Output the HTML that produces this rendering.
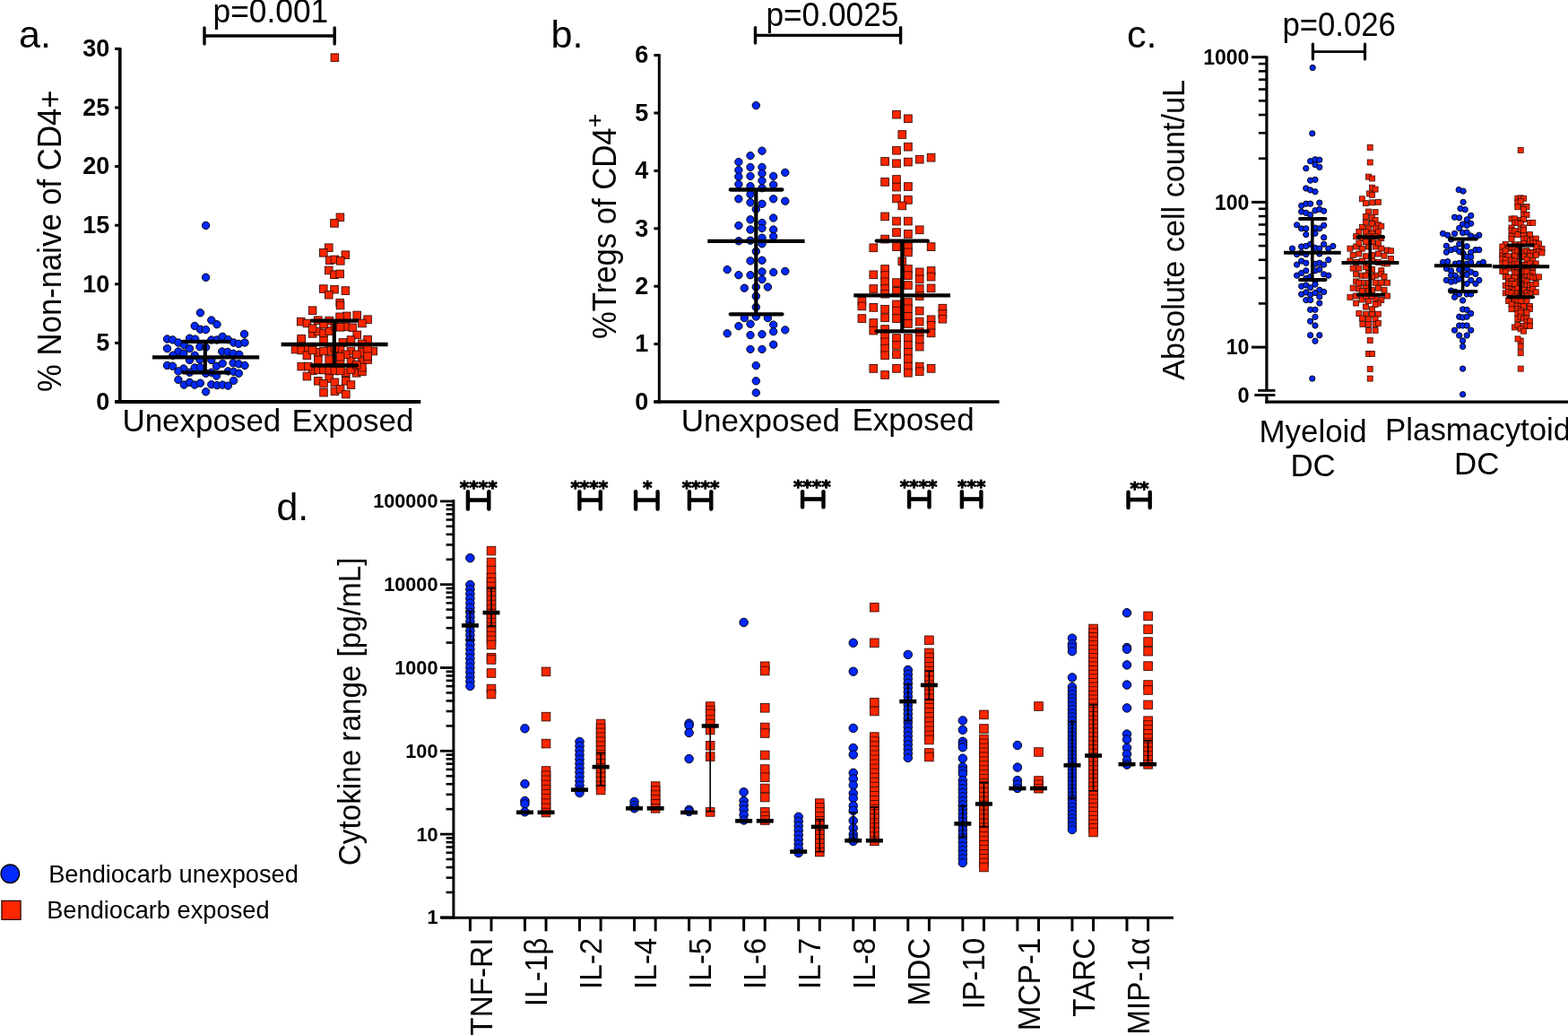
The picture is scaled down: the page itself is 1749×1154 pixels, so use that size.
<!DOCTYPE html>
<html><head><meta charset="utf-8"><title>Figure</title>
<style>html,body{margin:0;padding:0;background:#fff;}svg{display:block;}</style>
</head><body>
<svg width="1749" height="1154" viewBox="0 0 1749 1154" font-family="'Liberation Sans', Arial, Helvetica, sans-serif">
<rect width="1749" height="1154" fill="#fff"/>
<line x1="133.8" y1="53.2" x2="133.8" y2="449.5" stroke="#000" stroke-width="3.6" stroke-linecap="butt"/>
<line x1="128" y1="448" x2="134" y2="448" stroke="#000" stroke-width="3" stroke-linecap="butt"/>
<text transform="translate(122.2 456.8)" font-size="27" text-anchor="end" font-weight="bold">0</text>
<line x1="128" y1="382.4" x2="134" y2="382.4" stroke="#000" stroke-width="3" stroke-linecap="butt"/>
<text transform="translate(122.2 391.2)" font-size="27" text-anchor="end" font-weight="bold">5</text>
<line x1="128" y1="316.8" x2="134" y2="316.8" stroke="#000" stroke-width="3" stroke-linecap="butt"/>
<text transform="translate(122.2 325.6)" font-size="27" text-anchor="end" font-weight="bold">10</text>
<line x1="128" y1="251.2" x2="134" y2="251.2" stroke="#000" stroke-width="3" stroke-linecap="butt"/>
<text transform="translate(122.2 260)" font-size="27" text-anchor="end" font-weight="bold">15</text>
<line x1="128" y1="185.6" x2="134" y2="185.6" stroke="#000" stroke-width="3" stroke-linecap="butt"/>
<text transform="translate(122.2 194.4)" font-size="27" text-anchor="end" font-weight="bold">20</text>
<line x1="128" y1="120" x2="134" y2="120" stroke="#000" stroke-width="3" stroke-linecap="butt"/>
<text transform="translate(122.2 128.8)" font-size="27" text-anchor="end" font-weight="bold">25</text>
<line x1="128" y1="54.4" x2="134" y2="54.4" stroke="#000" stroke-width="3" stroke-linecap="butt"/>
<text transform="translate(122.2 63.2)" font-size="27" text-anchor="end" font-weight="bold">30</text>
<line x1="128.2" y1="448" x2="469.3" y2="448" stroke="#000" stroke-width="4" stroke-linecap="butt"/>
<text transform="translate(136.4 481.3)" font-size="34.97" text-anchor="start" font-weight="normal">Unexposed</text>
<text transform="translate(325.4 481.2)" font-size="34.93" text-anchor="start" font-weight="normal">Exposed</text>
<text transform="translate(67.5 436.9) rotate(-90) scale(1 1.05)" font-size="34.7" text-anchor="start" font-weight="normal">% Non-naive of CD4+</text>
<text transform="translate(21.1 52.8)" font-size="43" text-anchor="start" font-weight="normal">a.</text>
<text transform="translate(237.6 25.3) scale(1 1.03)" font-size="35.3" text-anchor="start" font-weight="normal">p=0.001</text>
<line x1="228" y1="40" x2="373.2" y2="40" stroke="#000" stroke-width="3.4" stroke-linecap="butt"/>
<line x1="228" y1="31" x2="228" y2="49" stroke="#000" stroke-width="3.4" stroke-linecap="round"/>
<line x1="373.2" y1="31" x2="373.2" y2="49" stroke="#000" stroke-width="3.4" stroke-linecap="round"/>
<g fill="#0028ff" stroke="#05050a" stroke-width="1">
<circle cx="223.4" cy="348.8" r="4.2"/>
<circle cx="235.8" cy="357" r="4.2"/>
<circle cx="242" cy="361.7" r="4.2"/>
<circle cx="217.2" cy="363.4" r="4.2"/>
<circle cx="223.4" cy="367.2" r="4.2"/>
<circle cx="229.6" cy="367.6" r="4.2"/>
<circle cx="272.5" cy="372.4" r="4.2"/>
<circle cx="186.5" cy="378" r="4.2"/>
<circle cx="192.6" cy="378.9" r="4.2"/>
<circle cx="198.9" cy="382" r="4.2"/>
<circle cx="211.5" cy="377.2" r="4.2"/>
<circle cx="217.7" cy="378.1" r="4.2"/>
<circle cx="235.8" cy="379" r="4.2"/>
<circle cx="242" cy="379" r="4.2"/>
<circle cx="248.2" cy="375.3" r="4.2"/>
<circle cx="254.4" cy="378.6" r="4.2"/>
<circle cx="260.6" cy="382" r="4.2"/>
<circle cx="266.3" cy="383.4" r="4.2"/>
<circle cx="273" cy="382" r="4.2"/>
<circle cx="186.5" cy="388.6" r="4.2"/>
<circle cx="205.3" cy="384.8" r="4.2"/>
<circle cx="211.5" cy="388.6" r="4.2"/>
<circle cx="222.9" cy="386.7" r="4.2"/>
<circle cx="229.6" cy="387.2" r="4.2"/>
<circle cx="198.9" cy="392" r="4.2"/>
<circle cx="204.8" cy="394.3" r="4.2"/>
<circle cx="192.9" cy="396.2" r="4.2"/>
<circle cx="217.2" cy="396.2" r="4.2"/>
<circle cx="247.7" cy="392" r="4.2"/>
<circle cx="253.9" cy="392.4" r="4.2"/>
<circle cx="260.1" cy="394.3" r="4.2"/>
<circle cx="266.8" cy="395.3" r="4.2"/>
<circle cx="211.5" cy="401.5" r="4.2"/>
<circle cx="222.9" cy="401" r="4.2"/>
<circle cx="235.8" cy="401.5" r="4.2"/>
<circle cx="186.5" cy="407.5" r="4.2"/>
<circle cx="192.6" cy="408.2" r="4.2"/>
<circle cx="204.8" cy="411" r="4.2"/>
<circle cx="217.2" cy="410" r="4.2"/>
<circle cx="223.4" cy="409.6" r="4.2"/>
<circle cx="241.5" cy="408.2" r="4.2"/>
<circle cx="248.2" cy="405.3" r="4.2"/>
<circle cx="260.1" cy="404.8" r="4.2"/>
<circle cx="266.3" cy="405.8" r="4.2"/>
<circle cx="273" cy="407.5" r="4.2"/>
<circle cx="198.9" cy="413.9" r="4.2"/>
<circle cx="211.5" cy="415.3" r="4.2"/>
<circle cx="229.6" cy="416.3" r="4.2"/>
<circle cx="235.8" cy="415.3" r="4.2"/>
<circle cx="241.5" cy="419.1" r="4.2"/>
<circle cx="254.4" cy="413.9" r="4.2"/>
<circle cx="260.6" cy="414.4" r="4.2"/>
<circle cx="266.3" cy="416.3" r="4.2"/>
<circle cx="198.9" cy="423.4" r="4.2"/>
<circle cx="260.6" cy="424.4" r="4.2"/>
<circle cx="205.3" cy="429.1" r="4.2"/>
<circle cx="211.5" cy="426.3" r="4.2"/>
<circle cx="217.2" cy="429.1" r="4.2"/>
<circle cx="223.4" cy="427.2" r="4.2"/>
<circle cx="235.8" cy="428.7" r="4.2"/>
<circle cx="242" cy="429.6" r="4.2"/>
<circle cx="248.2" cy="429.1" r="4.2"/>
<circle cx="254.4" cy="430.1" r="4.2"/>
<circle cx="229.6" cy="436.8" r="4.2"/>
<circle cx="229.6" cy="251.4" r="4.2"/>
<circle cx="229.6" cy="309.3" r="4.2"/>
</g>
<g fill="#ff2600" stroke="#3a0c04" stroke-width="0.9">
<rect x="369.1" y="59.9" width="8.6" height="8.6"/>
<rect x="375.1" y="238" width="8.6" height="8.6"/>
<rect x="368.7" y="244.6" width="8.6" height="8.6"/>
<rect x="362.5" y="271.9" width="8.6" height="8.6"/>
<rect x="356.5" y="277.5" width="8.6" height="8.6"/>
<rect x="381.1" y="279.9" width="8.6" height="8.6"/>
<rect x="363.5" y="285.9" width="8.6" height="8.6"/>
<rect x="369.1" y="285.1" width="8.6" height="8.6"/>
<rect x="375.5" y="286.5" width="8.6" height="8.6"/>
<rect x="362.5" y="297.1" width="8.6" height="8.6"/>
<rect x="368.5" y="301.9" width="8.6" height="8.6"/>
<rect x="374.9" y="301.1" width="8.6" height="8.6"/>
<rect x="356.5" y="317.8" width="8.6" height="8.6"/>
<rect x="368.7" y="318.4" width="8.6" height="8.6"/>
<rect x="381.1" y="319.8" width="8.6" height="8.6"/>
<rect x="362.5" y="324.4" width="8.6" height="8.6"/>
<rect x="374.9" y="333.4" width="8.6" height="8.6"/>
<rect x="344.3" y="341.9" width="8.6" height="8.6"/>
<rect x="375.3" y="336.2" width="8.6" height="8.6"/>
<rect x="393.9" y="347.1" width="8.6" height="8.6"/>
<rect x="382.4" y="348.1" width="8.6" height="8.6"/>
<rect x="374.8" y="349" width="8.6" height="8.6"/>
<rect x="405.8" y="351.9" width="8.6" height="8.6"/>
<rect x="331.4" y="354.3" width="8.6" height="8.6"/>
<rect x="338.1" y="356.2" width="8.6" height="8.6"/>
<rect x="350.5" y="352.9" width="8.6" height="8.6"/>
<rect x="362.9" y="353.3" width="8.6" height="8.6"/>
<rect x="399.6" y="356.2" width="8.6" height="8.6"/>
<rect x="381.5" y="360" width="8.6" height="8.6"/>
<rect x="389.1" y="361" width="8.6" height="8.6"/>
<rect x="393.9" y="369.1" width="8.6" height="8.6"/>
<rect x="344.3" y="367.6" width="8.6" height="8.6"/>
<rect x="350.5" y="365.3" width="8.6" height="8.6"/>
<rect x="356.7" y="367.2" width="8.6" height="8.6"/>
<rect x="362.9" y="364.8" width="8.6" height="8.6"/>
<rect x="387.2" y="374.8" width="8.6" height="8.6"/>
<rect x="405.8" y="374.3" width="8.6" height="8.6"/>
<rect x="331.9" y="374.8" width="8.6" height="8.6"/>
<rect x="356.7" y="375.7" width="8.6" height="8.6"/>
<rect x="399.6" y="379.1" width="8.6" height="8.6"/>
<rect x="378.1" y="377.6" width="8.6" height="8.6"/>
<rect x="325.2" y="385.3" width="8.6" height="8.6"/>
<rect x="331.9" y="386.2" width="8.6" height="8.6"/>
<rect x="339.5" y="383.4" width="8.6" height="8.6"/>
<rect x="350.5" y="388.6" width="8.6" height="8.6"/>
<rect x="362.9" y="386.7" width="8.6" height="8.6"/>
<rect x="375.3" y="385.7" width="8.6" height="8.6"/>
<rect x="387.2" y="387.2" width="8.6" height="8.6"/>
<rect x="399.6" y="388.6" width="8.6" height="8.6"/>
<rect x="412" y="387.2" width="8.6" height="8.6"/>
<rect x="338.1" y="391.9" width="8.6" height="8.6"/>
<rect x="350.5" y="397.2" width="8.6" height="8.6"/>
<rect x="362.9" y="396.7" width="8.6" height="8.6"/>
<rect x="375.3" y="397.2" width="8.6" height="8.6"/>
<rect x="387.2" y="397.7" width="8.6" height="8.6"/>
<rect x="399.6" y="398.1" width="8.6" height="8.6"/>
<rect x="405.8" y="396.7" width="8.6" height="8.6"/>
<rect x="331.9" y="404.3" width="8.6" height="8.6"/>
<rect x="344.3" y="409.1" width="8.6" height="8.6"/>
<rect x="350.5" y="408.1" width="8.6" height="8.6"/>
<rect x="356.7" y="408.1" width="8.6" height="8.6"/>
<rect x="362.9" y="408.6" width="8.6" height="8.6"/>
<rect x="381.5" y="411" width="8.6" height="8.6"/>
<rect x="393.4" y="411.5" width="8.6" height="8.6"/>
<rect x="399.6" y="410.1" width="8.6" height="8.6"/>
<rect x="338.1" y="415.3" width="8.6" height="8.6"/>
<rect x="350.5" y="420.5" width="8.6" height="8.6"/>
<rect x="362.9" y="417.7" width="8.6" height="8.6"/>
<rect x="369.1" y="422" width="8.6" height="8.6"/>
<rect x="381.5" y="420.5" width="8.6" height="8.6"/>
<rect x="387.2" y="424.8" width="8.6" height="8.6"/>
<rect x="356.7" y="433.4" width="8.6" height="8.6"/>
<rect x="369.1" y="432" width="8.6" height="8.6"/>
<rect x="375.3" y="429.6" width="8.6" height="8.6"/>
<rect x="381.5" y="435.3" width="8.6" height="8.6"/>
<rect x="356.7" y="423.4" width="8.6" height="8.6"/>
<rect x="344.3" y="361.9" width="8.6" height="8.6"/>
<rect x="356.7" y="357.2" width="8.6" height="8.6"/>
<rect x="369.1" y="359.1" width="8.6" height="8.6"/>
<rect x="375.3" y="360.5" width="8.6" height="8.6"/>
<rect x="331.9" y="373.4" width="8.6" height="8.6"/>
<rect x="405.8" y="385.3" width="8.6" height="8.6"/>
<rect x="405.8" y="392.9" width="8.6" height="8.6"/>
<rect x="393.4" y="391" width="8.6" height="8.6"/>
<rect x="381.5" y="391" width="8.6" height="8.6"/>
<rect x="344.3" y="386.2" width="8.6" height="8.6"/>
<rect x="356.7" y="387.2" width="8.6" height="8.6"/>
<rect x="369.1" y="383.8" width="8.6" height="8.6"/>
<rect x="375.3" y="393.4" width="8.6" height="8.6"/>
<rect x="339.5" y="404.3" width="8.6" height="8.6"/>
<rect x="369.1" y="409.1" width="8.6" height="8.6"/>
<rect x="375.3" y="409.1" width="8.6" height="8.6"/>
<rect x="387.2" y="408.1" width="8.6" height="8.6"/>
<rect x="399.6" y="405.3" width="8.6" height="8.6"/>
<rect x="393.4" y="402.4" width="8.6" height="8.6"/>
</g>
<line x1="170" y1="398.3" x2="289.2" y2="398.3" stroke="#000" stroke-width="4.3" stroke-linecap="butt"/>
<line x1="204.3" y1="380.8" x2="254.9" y2="380.8" stroke="#000" stroke-width="4.3" stroke-linecap="round"/>
<line x1="204.3" y1="415.3" x2="254.9" y2="415.3" stroke="#000" stroke-width="4.3" stroke-linecap="round"/>
<line x1="228.8" y1="380.8" x2="228.8" y2="415.3" stroke="#000" stroke-width="4.2" stroke-linecap="butt"/>
<line x1="313.6" y1="384" x2="432.6" y2="384" stroke="#000" stroke-width="4.3" stroke-linecap="butt"/>
<line x1="347.9" y1="357.6" x2="398.1" y2="357.6" stroke="#000" stroke-width="4.3" stroke-linecap="round"/>
<line x1="347.9" y1="407.5" x2="398.1" y2="407.5" stroke="#000" stroke-width="4.3" stroke-linecap="round"/>
<line x1="372.8" y1="357.6" x2="372.8" y2="407.5" stroke="#000" stroke-width="4.2" stroke-linecap="butt"/>
<line x1="735.3" y1="60.2" x2="735.3" y2="449.7" stroke="#000" stroke-width="3" stroke-linecap="butt"/>
<line x1="729.4" y1="448" x2="735.5" y2="448" stroke="#000" stroke-width="3" stroke-linecap="butt"/>
<text transform="translate(723.4 456.8)" font-size="27" text-anchor="end" font-weight="bold">0</text>
<line x1="729.4" y1="383.6" x2="735.5" y2="383.6" stroke="#000" stroke-width="3" stroke-linecap="butt"/>
<text transform="translate(723.4 392.4)" font-size="27" text-anchor="end" font-weight="bold">1</text>
<line x1="729.4" y1="319.2" x2="735.5" y2="319.2" stroke="#000" stroke-width="3" stroke-linecap="butt"/>
<text transform="translate(723.4 328)" font-size="27" text-anchor="end" font-weight="bold">2</text>
<line x1="729.4" y1="254.8" x2="735.5" y2="254.8" stroke="#000" stroke-width="3" stroke-linecap="butt"/>
<text transform="translate(723.4 263.6)" font-size="27" text-anchor="end" font-weight="bold">3</text>
<line x1="729.4" y1="190.4" x2="735.5" y2="190.4" stroke="#000" stroke-width="3" stroke-linecap="butt"/>
<text transform="translate(723.4 199.2)" font-size="27" text-anchor="end" font-weight="bold">4</text>
<line x1="729.4" y1="126" x2="735.5" y2="126" stroke="#000" stroke-width="3" stroke-linecap="butt"/>
<text transform="translate(723.4 134.8)" font-size="27" text-anchor="end" font-weight="bold">5</text>
<line x1="729.4" y1="61.6" x2="735.5" y2="61.6" stroke="#000" stroke-width="3" stroke-linecap="butt"/>
<text transform="translate(723.4 70.4)" font-size="27" text-anchor="end" font-weight="bold">6</text>
<line x1="729.4" y1="448" x2="1114.6" y2="448" stroke="#000" stroke-width="3.5" stroke-linecap="butt"/>
<text transform="translate(759.8 480.8)" font-size="35.05" text-anchor="start" font-weight="normal">Unexposed</text>
<text transform="translate(950.4 479.6)" font-size="35.01" text-anchor="start" font-weight="normal">Exposed</text>
<text transform="translate(687 378.1) rotate(-90) scale(1 1.04)" font-size="34.68" text-anchor="start" font-weight="normal">%Tregs of CD4</text>
<text transform="translate(671.7 142) rotate(-90)" font-size="26" text-anchor="start" font-weight="normal" stroke="#000" stroke-width="0.35">+</text>
<text transform="translate(614.5 52.9)" font-size="43" text-anchor="start" font-weight="normal">b.</text>
<text transform="translate(854.4 28.8) scale(1 1.03)" font-size="35.26" text-anchor="start" font-weight="normal">p=0.0025</text>
<line x1="842.5" y1="39.3" x2="1004.6" y2="39.3" stroke="#000" stroke-width="3.3" stroke-linecap="butt"/>
<line x1="842.5" y1="30.8" x2="842.5" y2="48" stroke="#000" stroke-width="3.4" stroke-linecap="round"/>
<line x1="1004.6" y1="30.8" x2="1004.6" y2="48" stroke="#000" stroke-width="3.4" stroke-linecap="round"/>
<g fill="#0028ff" stroke="#05050a" stroke-width="1">
<circle cx="843.3" cy="117.6" r="4.2"/>
<circle cx="850" cy="168.2" r="4.2"/>
<circle cx="837" cy="173.6" r="4.2"/>
<circle cx="823.9" cy="180.6" r="4.2"/>
<circle cx="837" cy="186.4" r="4.2"/>
<circle cx="850" cy="186.4" r="4.2"/>
<circle cx="823.9" cy="189.7" r="4.2"/>
<circle cx="875.8" cy="192.4" r="4.2"/>
<circle cx="850" cy="193.3" r="4.2"/>
<circle cx="823.9" cy="197" r="4.2"/>
<circle cx="837" cy="196.4" r="4.2"/>
<circle cx="862.7" cy="196.4" r="4.2"/>
<circle cx="850" cy="201.5" r="4.2"/>
<circle cx="823.9" cy="205.5" r="4.2"/>
<circle cx="837" cy="207.6" r="4.2"/>
<circle cx="862.7" cy="206" r="4.2"/>
<circle cx="850" cy="209.7" r="4.2"/>
<circle cx="837" cy="216.7" r="4.2"/>
<circle cx="823.9" cy="221.8" r="4.2"/>
<circle cx="862.7" cy="221.8" r="4.2"/>
<circle cx="875.8" cy="224.2" r="4.2"/>
<circle cx="837" cy="225.8" r="4.2"/>
<circle cx="850" cy="227.3" r="4.2"/>
<circle cx="843.3" cy="233.3" r="4.2"/>
<circle cx="837" cy="244.8" r="4.2"/>
<circle cx="862.7" cy="243" r="4.2"/>
<circle cx="850" cy="248.5" r="4.2"/>
<circle cx="823.9" cy="251.5" r="4.2"/>
<circle cx="837" cy="256" r="4.2"/>
<circle cx="850" cy="254.5" r="4.2"/>
<circle cx="862.7" cy="256" r="4.2"/>
<circle cx="862.7" cy="263.6" r="4.2"/>
<circle cx="850" cy="265.2" r="4.2"/>
<circle cx="823.9" cy="268.8" r="4.2"/>
<circle cx="837" cy="268.2" r="4.2"/>
<circle cx="850" cy="271.8" r="4.2"/>
<circle cx="843.3" cy="280.3" r="4.2"/>
<circle cx="837" cy="290.9" r="4.2"/>
<circle cx="850" cy="290.3" r="4.2"/>
<circle cx="811.2" cy="300.6" r="4.2"/>
<circle cx="823.9" cy="306.7" r="4.2"/>
<circle cx="837" cy="306.7" r="4.2"/>
<circle cx="850" cy="303" r="4.2"/>
<circle cx="862.7" cy="303.6" r="4.2"/>
<circle cx="875.8" cy="302.4" r="4.2"/>
<circle cx="850" cy="311.5" r="4.2"/>
<circle cx="830.3" cy="321.2" r="4.2"/>
<circle cx="843.3" cy="320" r="4.2"/>
<circle cx="856.4" cy="320" r="4.2"/>
<circle cx="843.3" cy="330.3" r="4.2"/>
<circle cx="843.3" cy="342.4" r="4.2"/>
<circle cx="830.3" cy="354.5" r="4.2"/>
<circle cx="843.3" cy="353" r="4.2"/>
<circle cx="856.4" cy="354.5" r="4.2"/>
<circle cx="823.9" cy="363.6" r="4.2"/>
<circle cx="837" cy="361.2" r="4.2"/>
<circle cx="862.7" cy="362.1" r="4.2"/>
<circle cx="811.2" cy="371.8" r="4.2"/>
<circle cx="837" cy="373.6" r="4.2"/>
<circle cx="850" cy="372.7" r="4.2"/>
<circle cx="862.7" cy="369.7" r="4.2"/>
<circle cx="875.8" cy="367.9" r="4.2"/>
<circle cx="862.7" cy="384.2" r="4.2"/>
<circle cx="837" cy="389.4" r="4.2"/>
<circle cx="850" cy="389.4" r="4.2"/>
<circle cx="843.3" cy="407.6" r="4.2"/>
<circle cx="843.3" cy="424.8" r="4.2"/>
<circle cx="843.3" cy="437.9" r="4.2"/>
</g>
<g fill="#ff2600" stroke="#3a0c04" stroke-width="0.9">
<rect x="995.65" y="123.35" width="8.7" height="8.7"/>
<rect x="1008.55" y="127.95" width="8.7" height="8.7"/>
<rect x="1001.95" y="145.65" width="8.7" height="8.7"/>
<rect x="995.65" y="163.35" width="8.7" height="8.7"/>
<rect x="1008.55" y="159.35" width="8.7" height="8.7"/>
<rect x="982.75" y="175.65" width="8.7" height="8.7"/>
<rect x="995.65" y="177.95" width="8.7" height="8.7"/>
<rect x="1008.55" y="176.25" width="8.7" height="8.7"/>
<rect x="1021.35" y="173.35" width="8.7" height="8.7"/>
<rect x="1034.25" y="171.35" width="8.7" height="8.7"/>
<rect x="982.75" y="198.55" width="8.7" height="8.7"/>
<rect x="995.65" y="195.65" width="8.7" height="8.7"/>
<rect x="995.65" y="204.25" width="8.7" height="8.7"/>
<rect x="1008.55" y="203.65" width="8.7" height="8.7"/>
<rect x="995.65" y="217.05" width="8.7" height="8.7"/>
<rect x="1008.55" y="218.55" width="8.7" height="8.7"/>
<rect x="1001.95" y="225.05" width="8.7" height="8.7"/>
<rect x="982.75" y="237.05" width="8.7" height="8.7"/>
<rect x="995.65" y="242.25" width="8.7" height="8.7"/>
<rect x="1008.55" y="242.25" width="8.7" height="8.7"/>
<rect x="1021.35" y="251.95" width="8.7" height="8.7"/>
<rect x="995.65" y="254.75" width="8.7" height="8.7"/>
<rect x="1008.55" y="256.55" width="8.7" height="8.7"/>
<rect x="982.75" y="262.25" width="8.7" height="8.7"/>
<rect x="969.95" y="271.95" width="8.7" height="8.7"/>
<rect x="995.65" y="270.75" width="8.7" height="8.7"/>
<rect x="1008.55" y="270.75" width="8.7" height="8.7"/>
<rect x="1008.55" y="277.05" width="8.7" height="8.7"/>
<rect x="1034.25" y="270.75" width="8.7" height="8.7"/>
<rect x="1001.95" y="287.05" width="8.7" height="8.7"/>
<rect x="982.75" y="295.65" width="8.7" height="8.7"/>
<rect x="969.95" y="301.95" width="8.7" height="8.7"/>
<rect x="1008.55" y="295.65" width="8.7" height="8.7"/>
<rect x="1021.35" y="299.05" width="8.7" height="8.7"/>
<rect x="1034.25" y="297.65" width="8.7" height="8.7"/>
<rect x="982.75" y="302.75" width="8.7" height="8.7"/>
<rect x="1008.55" y="302.75" width="8.7" height="8.7"/>
<rect x="1021.35" y="307.05" width="8.7" height="8.7"/>
<rect x="1034.25" y="304.25" width="8.7" height="8.7"/>
<rect x="982.75" y="309.95" width="8.7" height="8.7"/>
<rect x="995.65" y="310.75" width="8.7" height="8.7"/>
<rect x="1008.55" y="313.65" width="8.7" height="8.7"/>
<rect x="982.75" y="317.65" width="8.7" height="8.7"/>
<rect x="969.95" y="317.65" width="8.7" height="8.7"/>
<rect x="1021.35" y="317.65" width="8.7" height="8.7"/>
<rect x="1034.25" y="317.05" width="8.7" height="8.7"/>
<rect x="982.75" y="323.35" width="8.7" height="8.7"/>
<rect x="995.65" y="320.55" width="8.7" height="8.7"/>
<rect x="1021.35" y="325.65" width="8.7" height="8.7"/>
<rect x="957.05" y="331.35" width="8.7" height="8.7"/>
<rect x="957.05" y="337.05" width="8.7" height="8.7"/>
<rect x="969.95" y="338.55" width="8.7" height="8.7"/>
<rect x="982.75" y="340.55" width="8.7" height="8.7"/>
<rect x="995.65" y="335.05" width="8.7" height="8.7"/>
<rect x="995.65" y="342.25" width="8.7" height="8.7"/>
<rect x="1008.55" y="332.75" width="8.7" height="8.7"/>
<rect x="1008.55" y="339.95" width="8.7" height="8.7"/>
<rect x="1021.35" y="342.25" width="8.7" height="8.7"/>
<rect x="1047.05" y="339.35" width="8.7" height="8.7"/>
<rect x="1047.05" y="345.65" width="8.7" height="8.7"/>
<rect x="1047.05" y="351.35" width="8.7" height="8.7"/>
<rect x="957.05" y="350.75" width="8.7" height="8.7"/>
<rect x="969.95" y="355.65" width="8.7" height="8.7"/>
<rect x="969.95" y="364.25" width="8.7" height="8.7"/>
<rect x="982.75" y="349.95" width="8.7" height="8.7"/>
<rect x="995.65" y="350.75" width="8.7" height="8.7"/>
<rect x="1008.55" y="348.55" width="8.7" height="8.7"/>
<rect x="1008.55" y="356.55" width="8.7" height="8.7"/>
<rect x="1021.35" y="354.25" width="8.7" height="8.7"/>
<rect x="1034.25" y="351.95" width="8.7" height="8.7"/>
<rect x="1034.25" y="358.55" width="8.7" height="8.7"/>
<rect x="1034.25" y="367.05" width="8.7" height="8.7"/>
<rect x="982.75" y="362.75" width="8.7" height="8.7"/>
<rect x="982.75" y="369.95" width="8.7" height="8.7"/>
<rect x="982.75" y="377.05" width="8.7" height="8.7"/>
<rect x="982.75" y="384.25" width="8.7" height="8.7"/>
<rect x="982.75" y="391.95" width="8.7" height="8.7"/>
<rect x="995.65" y="372.75" width="8.7" height="8.7"/>
<rect x="995.65" y="380.55" width="8.7" height="8.7"/>
<rect x="995.65" y="390.75" width="8.7" height="8.7"/>
<rect x="1008.55" y="372.75" width="8.7" height="8.7"/>
<rect x="1008.55" y="380.55" width="8.7" height="8.7"/>
<rect x="1008.55" y="388.55" width="8.7" height="8.7"/>
<rect x="1008.55" y="395.65" width="8.7" height="8.7"/>
<rect x="1008.55" y="404.25" width="8.7" height="8.7"/>
<rect x="1008.55" y="411.35" width="8.7" height="8.7"/>
<rect x="1021.35" y="365.65" width="8.7" height="8.7"/>
<rect x="1021.35" y="374.25" width="8.7" height="8.7"/>
<rect x="1021.35" y="382.25" width="8.7" height="8.7"/>
<rect x="969.95" y="406.55" width="8.7" height="8.7"/>
<rect x="982.75" y="413.65" width="8.7" height="8.7"/>
<rect x="995.65" y="406.55" width="8.7" height="8.7"/>
<rect x="1021.35" y="404.25" width="8.7" height="8.7"/>
<rect x="1021.35" y="409.95" width="8.7" height="8.7"/>
<rect x="1034.25" y="406.55" width="8.7" height="8.7"/>
</g>
<line x1="789.3" y1="268.8" x2="897.6" y2="268.8" stroke="#000" stroke-width="4.3" stroke-linecap="butt"/>
<line x1="814.8" y1="211.5" x2="872.4" y2="211.5" stroke="#000" stroke-width="4.3" stroke-linecap="round"/>
<line x1="814.8" y1="350.3" x2="872.4" y2="350.3" stroke="#000" stroke-width="4.3" stroke-linecap="round"/>
<line x1="843.3" y1="211.5" x2="843.3" y2="350.3" stroke="#000" stroke-width="4.2" stroke-linecap="butt"/>
<line x1="952.3" y1="329.4" x2="1060" y2="329.4" stroke="#000" stroke-width="4.3" stroke-linecap="butt"/>
<line x1="977.7" y1="268.6" x2="1034.9" y2="268.6" stroke="#000" stroke-width="4.3" stroke-linecap="round"/>
<line x1="977.7" y1="369.4" x2="1034.9" y2="369.4" stroke="#000" stroke-width="4.3" stroke-linecap="round"/>
<line x1="1006.3" y1="268.6" x2="1006.3" y2="369.4" stroke="#000" stroke-width="4.2" stroke-linecap="butt"/>
<line x1="1412.9" y1="62.6" x2="1412.9" y2="434" stroke="#000" stroke-width="3.2" stroke-linecap="butt"/>
<line x1="1412.9" y1="441.8" x2="1412.9" y2="449.6" stroke="#000" stroke-width="3.2" stroke-linecap="butt"/>
<line x1="1403.2" y1="435.4" x2="1422.4" y2="435.4" stroke="#000" stroke-width="2.8" stroke-linecap="butt"/>
<line x1="1399.3" y1="440.5" x2="1422.4" y2="440.5" stroke="#000" stroke-width="2.8" stroke-linecap="butt"/>
<line x1="1411.3" y1="448.2" x2="1749" y2="448.2" stroke="#000" stroke-width="3.2" stroke-linecap="butt"/>
<line x1="1396" y1="387.1" x2="1412.9" y2="387.1" stroke="#000" stroke-width="3" stroke-linecap="butt"/>
<text transform="translate(1393.4 395.3)" font-size="23" text-anchor="end" font-weight="bold">10</text>
<line x1="1396" y1="225.4" x2="1412.9" y2="225.4" stroke="#000" stroke-width="3" stroke-linecap="butt"/>
<text transform="translate(1393.4 233.6)" font-size="23" text-anchor="end" font-weight="bold">100</text>
<line x1="1396" y1="63.7" x2="1412.9" y2="63.7" stroke="#000" stroke-width="3" stroke-linecap="butt"/>
<text transform="translate(1393.4 71.9)" font-size="23" text-anchor="end" font-weight="bold">1000</text>
<line x1="1403.8" y1="338.42" x2="1412.9" y2="338.42" stroke="#000" stroke-width="2.6" stroke-linecap="butt"/>
<line x1="1403.8" y1="309.95" x2="1412.9" y2="309.95" stroke="#000" stroke-width="2.6" stroke-linecap="butt"/>
<line x1="1403.8" y1="289.75" x2="1412.9" y2="289.75" stroke="#000" stroke-width="2.6" stroke-linecap="butt"/>
<line x1="1403.8" y1="274.08" x2="1412.9" y2="274.08" stroke="#000" stroke-width="2.6" stroke-linecap="butt"/>
<line x1="1403.8" y1="261.27" x2="1412.9" y2="261.27" stroke="#000" stroke-width="2.6" stroke-linecap="butt"/>
<line x1="1403.8" y1="250.45" x2="1412.9" y2="250.45" stroke="#000" stroke-width="2.6" stroke-linecap="butt"/>
<line x1="1403.8" y1="241.07" x2="1412.9" y2="241.07" stroke="#000" stroke-width="2.6" stroke-linecap="butt"/>
<line x1="1403.8" y1="232.8" x2="1412.9" y2="232.8" stroke="#000" stroke-width="2.6" stroke-linecap="butt"/>
<line x1="1403.8" y1="176.72" x2="1412.9" y2="176.72" stroke="#000" stroke-width="2.6" stroke-linecap="butt"/>
<line x1="1403.8" y1="148.25" x2="1412.9" y2="148.25" stroke="#000" stroke-width="2.6" stroke-linecap="butt"/>
<line x1="1403.8" y1="128.05" x2="1412.9" y2="128.05" stroke="#000" stroke-width="2.6" stroke-linecap="butt"/>
<line x1="1403.8" y1="112.38" x2="1412.9" y2="112.38" stroke="#000" stroke-width="2.6" stroke-linecap="butt"/>
<line x1="1403.8" y1="99.57" x2="1412.9" y2="99.57" stroke="#000" stroke-width="2.6" stroke-linecap="butt"/>
<line x1="1403.8" y1="88.75" x2="1412.9" y2="88.75" stroke="#000" stroke-width="2.6" stroke-linecap="butt"/>
<line x1="1403.8" y1="79.37" x2="1412.9" y2="79.37" stroke="#000" stroke-width="2.6" stroke-linecap="butt"/>
<line x1="1403.8" y1="71.1" x2="1412.9" y2="71.1" stroke="#000" stroke-width="2.6" stroke-linecap="butt"/>
<text transform="translate(1393.5 448.7)" font-size="23.5" text-anchor="end" font-weight="bold">0</text>
<text transform="translate(1320.9 423.8) rotate(-90) scale(1 1.01)" font-size="34.23" text-anchor="start" font-weight="normal">Absolute cell count/uL</text>
<text transform="translate(1256.9 52.9)" font-size="43" text-anchor="start" font-weight="normal">c.</text>
<text transform="translate(1430.4 40.3) scale(1 1.04)" font-size="34.73" text-anchor="start" font-weight="normal">p=0.026</text>
<line x1="1464.4" y1="57.6" x2="1522.5" y2="57.6" stroke="#000" stroke-width="2.9" stroke-linecap="butt"/>
<line x1="1464.4" y1="49.2" x2="1464.4" y2="66" stroke="#000" stroke-width="3.2" stroke-linecap="round"/>
<line x1="1522.5" y1="49.2" x2="1522.5" y2="66" stroke="#000" stroke-width="3.2" stroke-linecap="round"/>
<text transform="translate(1404.6 493.1)" font-size="34.85" text-anchor="start" font-weight="normal">Myeloid</text>
<text transform="translate(1439.4 531)" font-size="34.85" text-anchor="start" font-weight="normal">DC</text>
<text transform="translate(1545.1 491)" font-size="34.85" text-anchor="start" font-weight="normal">Plasmacytoid</text>
<text transform="translate(1622.1 529)" font-size="34.85" text-anchor="start" font-weight="normal">DC</text>
<g fill="#0028ff" stroke="#05050a" stroke-width="1">
<circle cx="1463.76" cy="148.79" r="3.15"/>
<circle cx="1461.61" cy="179.66" r="3.15"/>
<circle cx="1466.98" cy="177.79" r="3.15"/>
<circle cx="1471.81" cy="178.32" r="3.15"/>
<circle cx="1466.98" cy="183.69" r="3.15"/>
<circle cx="1471.81" cy="186.38" r="3.15"/>
<circle cx="1456.78" cy="187.72" r="3.15"/>
<circle cx="1461.61" cy="201.14" r="3.15"/>
<circle cx="1466.98" cy="200.34" r="3.15"/>
<circle cx="1456.78" cy="210" r="3.15"/>
<circle cx="1461.61" cy="211.88" r="3.15"/>
<circle cx="1466.98" cy="213.76" r="3.15"/>
<circle cx="1451.68" cy="229.33" r="3.15"/>
<circle cx="1456.78" cy="227.18" r="3.15"/>
<circle cx="1461.61" cy="227.18" r="3.15"/>
<circle cx="1471.81" cy="226.11" r="3.15"/>
<circle cx="1451.68" cy="236.04" r="3.15"/>
<circle cx="1456.78" cy="237.38" r="3.15"/>
<circle cx="1461.61" cy="239.53" r="3.15"/>
<circle cx="1466.98" cy="234.7" r="3.15"/>
<circle cx="1471.81" cy="233.36" r="3.15"/>
<circle cx="1476.64" cy="235.23" r="3.15"/>
<circle cx="1446.58" cy="250.81" r="3.15"/>
<circle cx="1451.68" cy="254.83" r="3.15"/>
<circle cx="1456.78" cy="254.83" r="3.15"/>
<circle cx="1456.78" cy="261.54" r="3.15"/>
<circle cx="1466.98" cy="254.03" r="3.15"/>
<circle cx="1471.81" cy="254.83" r="3.15"/>
<circle cx="1476.64" cy="251.34" r="3.15"/>
<circle cx="1466.98" cy="260.2" r="3.15"/>
<circle cx="1476.64" cy="264.77" r="3.15"/>
<circle cx="1441.48" cy="277.11" r="3.15"/>
<circle cx="1451.68" cy="274.97" r="3.15"/>
<circle cx="1456.78" cy="274.43" r="3.15"/>
<circle cx="1461.61" cy="272.28" r="3.15"/>
<circle cx="1466.98" cy="276.31" r="3.15"/>
<circle cx="1471.81" cy="277.11" r="3.15"/>
<circle cx="1476.64" cy="272.28" r="3.15"/>
<circle cx="1481.74" cy="277.11" r="3.15"/>
<circle cx="1486.85" cy="274.43" r="3.15"/>
<circle cx="1446.58" cy="283.56" r="3.15"/>
<circle cx="1451.68" cy="281.68" r="3.15"/>
<circle cx="1456.78" cy="283.56" r="3.15"/>
<circle cx="1471.81" cy="283.02" r="3.15"/>
<circle cx="1446.58" cy="295.1" r="3.15"/>
<circle cx="1451.68" cy="291.07" r="3.15"/>
<circle cx="1456.78" cy="293.22" r="3.15"/>
<circle cx="1466.98" cy="294.3" r="3.15"/>
<circle cx="1471.81" cy="293.22" r="3.15"/>
<circle cx="1476.64" cy="295.1" r="3.15"/>
<circle cx="1481.74" cy="289.73" r="3.15"/>
<circle cx="1456.78" cy="301.81" r="3.15"/>
<circle cx="1466.98" cy="301.81" r="3.15"/>
<circle cx="1471.81" cy="300.47" r="3.15"/>
<circle cx="1446.58" cy="307.18" r="3.15"/>
<circle cx="1451.68" cy="304.5" r="3.15"/>
<circle cx="1476.64" cy="305.84" r="3.15"/>
<circle cx="1481.74" cy="307.18" r="3.15"/>
<circle cx="1456.78" cy="310.4" r="3.15"/>
<circle cx="1461.61" cy="308.52" r="3.15"/>
<circle cx="1466.98" cy="313.89" r="3.15"/>
<circle cx="1451.68" cy="319.26" r="3.15"/>
<circle cx="1456.78" cy="317.92" r="3.15"/>
<circle cx="1461.61" cy="320.6" r="3.15"/>
<circle cx="1466.98" cy="317.11" r="3.15"/>
<circle cx="1471.81" cy="323.29" r="3.15"/>
<circle cx="1476.64" cy="325.44" r="3.15"/>
<circle cx="1451.68" cy="328.12" r="3.15"/>
<circle cx="1456.78" cy="325.97" r="3.15"/>
<circle cx="1461.61" cy="328.66" r="3.15"/>
<circle cx="1466.98" cy="326.51" r="3.15"/>
<circle cx="1456.78" cy="334.56" r="3.15"/>
<circle cx="1461.61" cy="334.56" r="3.15"/>
<circle cx="1471.81" cy="330.81" r="3.15"/>
<circle cx="1471.81" cy="338.05" r="3.15"/>
<circle cx="1461.61" cy="345.3" r="3.15"/>
<circle cx="1466.98" cy="345.3" r="3.15"/>
<circle cx="1466.98" cy="353.36" r="3.15"/>
<circle cx="1461.61" cy="358.19" r="3.15"/>
<circle cx="1466.98" cy="363.02" r="3.15"/>
<circle cx="1461.61" cy="373.76" r="3.15"/>
<circle cx="1471.81" cy="373.76" r="3.15"/>
<circle cx="1466.98" cy="380.2" r="3.15"/>
<circle cx="1463.76" cy="422.08" r="3.15"/>
</g>
<g fill="#ff2600" stroke="#3a0c04" stroke-width="0.8">
<rect x="1525.19" y="161.36" width="6" height="6"/>
<rect x="1525.19" y="178.01" width="6" height="6"/>
<rect x="1523.58" y="194.11" width="6" height="6"/>
<rect x="1527.6" y="195.99" width="6" height="6"/>
<rect x="1527.6" y="206.19" width="6" height="6"/>
<rect x="1531.09" y="208.07" width="6" height="6"/>
<rect x="1524.38" y="212.91" width="6" height="6"/>
<rect x="1527.6" y="214.25" width="6" height="6"/>
<rect x="1516.33" y="218.81" width="6" height="6"/>
<rect x="1520.36" y="223.64" width="6" height="6"/>
<rect x="1527.6" y="222.84" width="6" height="6"/>
<rect x="1534.32" y="222.3" width="6" height="6"/>
<rect x="1523.58" y="233.04" width="6" height="6"/>
<rect x="1531.09" y="233.58" width="6" height="6"/>
<rect x="1520.36" y="238.41" width="6" height="6"/>
<rect x="1527.6" y="239.75" width="6" height="6"/>
<rect x="1531.09" y="242.44" width="6" height="6"/>
<rect x="1520.36" y="245.12" width="6" height="6"/>
<rect x="1527.6" y="246.46" width="6" height="6"/>
<rect x="1534.32" y="247.81" width="6" height="6"/>
<rect x="1516.33" y="250.49" width="6" height="6"/>
<rect x="1523.58" y="251.83" width="6" height="6"/>
<rect x="1531.09" y="251.83" width="6" height="6"/>
<rect x="1537.81" y="249.15" width="6" height="6"/>
<rect x="1512.84" y="255.32" width="6" height="6"/>
<rect x="1520.36" y="255.32" width="6" height="6"/>
<rect x="1527.6" y="257.2" width="6" height="6"/>
<rect x="1534.32" y="255.86" width="6" height="6"/>
<rect x="1509.62" y="260.69" width="6" height="6"/>
<rect x="1516.33" y="262.57" width="6" height="6"/>
<rect x="1523.58" y="260.69" width="6" height="6"/>
<rect x="1531.09" y="260.69" width="6" height="6"/>
<rect x="1537.81" y="262.57" width="6" height="6"/>
<rect x="1502.91" y="274.11" width="6" height="6"/>
<rect x="1509.62" y="271.97" width="6" height="6"/>
<rect x="1516.33" y="274.11" width="6" height="6"/>
<rect x="1523.58" y="271.97" width="6" height="6"/>
<rect x="1531.09" y="271.97" width="6" height="6"/>
<rect x="1537.81" y="274.11" width="6" height="6"/>
<rect x="1544.52" y="275.99" width="6" height="6"/>
<rect x="1548.54" y="276.8" width="6" height="6"/>
<rect x="1506.13" y="281.36" width="6" height="6"/>
<rect x="1512.84" y="280.02" width="6" height="6"/>
<rect x="1520.36" y="282.7" width="6" height="6"/>
<rect x="1527.6" y="281.36" width="6" height="6"/>
<rect x="1534.32" y="280.02" width="6" height="6"/>
<rect x="1541.03" y="282.17" width="6" height="6"/>
<rect x="1548.54" y="285.39" width="6" height="6"/>
<rect x="1502.91" y="288.07" width="6" height="6"/>
<rect x="1509.62" y="289.42" width="6" height="6"/>
<rect x="1516.33" y="288.07" width="6" height="6"/>
<rect x="1534.32" y="289.42" width="6" height="6"/>
<rect x="1541.03" y="290.76" width="6" height="6"/>
<rect x="1512.84" y="296.13" width="6" height="6"/>
<rect x="1520.36" y="294.79" width="6" height="6"/>
<rect x="1527.6" y="297.47" width="6" height="6"/>
<rect x="1537.81" y="298.81" width="6" height="6"/>
<rect x="1509.62" y="302.84" width="6" height="6"/>
<rect x="1516.33" y="304.18" width="6" height="6"/>
<rect x="1523.58" y="301.5" width="6" height="6"/>
<rect x="1531.09" y="304.18" width="6" height="6"/>
<rect x="1537.81" y="302.84" width="6" height="6"/>
<rect x="1509.62" y="310.89" width="6" height="6"/>
<rect x="1516.33" y="312.23" width="6" height="6"/>
<rect x="1523.58" y="312.23" width="6" height="6"/>
<rect x="1531.09" y="312.23" width="6" height="6"/>
<rect x="1537.81" y="312.23" width="6" height="6"/>
<rect x="1544.52" y="312.23" width="6" height="6"/>
<rect x="1506.13" y="318.14" width="6" height="6"/>
<rect x="1512.84" y="318.95" width="6" height="6"/>
<rect x="1520.36" y="318.14" width="6" height="6"/>
<rect x="1527.6" y="320.29" width="6" height="6"/>
<rect x="1534.32" y="318.14" width="6" height="6"/>
<rect x="1541.03" y="320.29" width="6" height="6"/>
<rect x="1502.91" y="328.34" width="6" height="6"/>
<rect x="1509.62" y="327" width="6" height="6"/>
<rect x="1516.33" y="331.03" width="6" height="6"/>
<rect x="1523.58" y="332.37" width="6" height="6"/>
<rect x="1531.09" y="330.49" width="6" height="6"/>
<rect x="1537.81" y="331.56" width="6" height="6"/>
<rect x="1544.52" y="327" width="6" height="6"/>
<rect x="1509.62" y="335.05" width="6" height="6"/>
<rect x="1534.32" y="335.05" width="6" height="6"/>
<rect x="1527.6" y="341.77" width="6" height="6"/>
<rect x="1512.84" y="346.6" width="6" height="6"/>
<rect x="1520.36" y="347.13" width="6" height="6"/>
<rect x="1527.6" y="347.67" width="6" height="6"/>
<rect x="1534.32" y="347.13" width="6" height="6"/>
<rect x="1516.33" y="351.97" width="6" height="6"/>
<rect x="1523.58" y="352.5" width="6" height="6"/>
<rect x="1531.09" y="352.5" width="6" height="6"/>
<rect x="1516.87" y="358.41" width="6" height="6"/>
<rect x="1523.58" y="358.41" width="6" height="6"/>
<rect x="1531.09" y="358.41" width="6" height="6"/>
<rect x="1534.32" y="357.34" width="6" height="6"/>
<rect x="1523.58" y="365.39" width="6" height="6"/>
<rect x="1531.09" y="365.39" width="6" height="6"/>
<rect x="1525.19" y="376.66" width="6" height="6"/>
<rect x="1523.58" y="391.43" width="6" height="6"/>
<rect x="1527.6" y="391.43" width="6" height="6"/>
<rect x="1525.19" y="408.34" width="6" height="6"/>
<rect x="1525.19" y="419.08" width="6" height="6"/>
<rect x="1520.36" y="266.6" width="6" height="6"/>
<rect x="1527.6" y="266.6" width="6" height="6"/>
<rect x="1512.84" y="267.94" width="6" height="6"/>
<rect x="1534.32" y="267.94" width="6" height="6"/>
<rect x="1523.58" y="290.76" width="6" height="6"/>
<rect x="1527.6" y="288.07" width="6" height="6"/>
<rect x="1520.36" y="304.18" width="6" height="6"/>
<rect x="1527.6" y="305.52" width="6" height="6"/>
<rect x="1523.58" y="321.63" width="6" height="6"/>
<rect x="1520.36" y="327" width="6" height="6"/>
<rect x="1527.6" y="327" width="6" height="6"/>
<rect x="1531.09" y="336.4" width="6" height="6"/>
<rect x="1520.36" y="339.08" width="6" height="6"/>
<rect x="1512.84" y="312.23" width="6" height="6"/>
<rect x="1544.52" y="290.76" width="6" height="6"/>
<rect x="1506.13" y="296.13" width="6" height="6"/>
<rect x="1541.03" y="305.52" width="6" height="6"/>
<rect x="1516.33" y="321.63" width="6" height="6"/>
</g>
<g fill="#0028ff" stroke="#05050a" stroke-width="1">
<circle cx="1464.2" cy="75.5" r="3.15"/>
<circle cx="1627.2" cy="211.6" r="3.15"/>
<circle cx="1632.1" cy="213.1" r="3.15"/>
<circle cx="1632.1" cy="225.3" r="3.15"/>
<circle cx="1629" cy="232.6" r="3.15"/>
<circle cx="1634.2" cy="233.7" r="3.15"/>
<circle cx="1622.5" cy="242.2" r="3.15"/>
<circle cx="1627.7" cy="242.8" r="3.15"/>
<circle cx="1640.7" cy="240.4" r="3.15"/>
<circle cx="1636.2" cy="244.8" r="3.15"/>
<circle cx="1631.6" cy="250" r="3.15"/>
<circle cx="1640.7" cy="249.2" r="3.15"/>
<circle cx="1636.2" cy="251.3" r="3.15"/>
<circle cx="1627.7" cy="254.4" r="3.15"/>
<circle cx="1609.5" cy="260.4" r="3.15"/>
<circle cx="1614.7" cy="262.2" r="3.15"/>
<circle cx="1622.5" cy="260.4" r="3.15"/>
<circle cx="1631.6" cy="259.6" r="3.15"/>
<circle cx="1636.2" cy="259.1" r="3.15"/>
<circle cx="1640.7" cy="263" r="3.15"/>
<circle cx="1649.8" cy="262.2" r="3.15"/>
<circle cx="1645.9" cy="264.8" r="3.15"/>
<circle cx="1618.6" cy="266.9" r="3.15"/>
<circle cx="1613.4" cy="274.2" r="3.15"/>
<circle cx="1627.7" cy="272.1" r="3.15"/>
<circle cx="1636.2" cy="274.7" r="3.15"/>
<circle cx="1613.4" cy="281.2" r="3.15"/>
<circle cx="1618.6" cy="278.6" r="3.15"/>
<circle cx="1623.3" cy="277.3" r="3.15"/>
<circle cx="1627.7" cy="280.4" r="3.15"/>
<circle cx="1640.7" cy="281.2" r="3.15"/>
<circle cx="1645.9" cy="278.6" r="3.15"/>
<circle cx="1649.8" cy="278.6" r="3.15"/>
<circle cx="1632.1" cy="282.5" r="3.15"/>
<circle cx="1636.2" cy="286.4" r="3.15"/>
<circle cx="1640.7" cy="286.4" r="3.15"/>
<circle cx="1609.5" cy="292.4" r="3.15"/>
<circle cx="1614.7" cy="291.6" r="3.15"/>
<circle cx="1623.3" cy="294.2" r="3.15"/>
<circle cx="1627.7" cy="293.4" r="3.15"/>
<circle cx="1636.2" cy="294.2" r="3.15"/>
<circle cx="1640.7" cy="292.4" r="3.15"/>
<circle cx="1649.8" cy="294.2" r="3.15"/>
<circle cx="1654.4" cy="292.4" r="3.15"/>
<circle cx="1613.4" cy="299.4" r="3.15"/>
<circle cx="1618.6" cy="302" r="3.15"/>
<circle cx="1627.7" cy="300.7" r="3.15"/>
<circle cx="1636.2" cy="299.4" r="3.15"/>
<circle cx="1640.7" cy="303.3" r="3.15"/>
<circle cx="1645.9" cy="305.4" r="3.15"/>
<circle cx="1618.6" cy="307.2" r="3.15"/>
<circle cx="1623.3" cy="307.2" r="3.15"/>
<circle cx="1631.6" cy="305.4" r="3.15"/>
<circle cx="1636.2" cy="306.4" r="3.15"/>
<circle cx="1613.4" cy="312.4" r="3.15"/>
<circle cx="1618.6" cy="314.2" r="3.15"/>
<circle cx="1623.3" cy="313.2" r="3.15"/>
<circle cx="1627.7" cy="311.1" r="3.15"/>
<circle cx="1640.7" cy="312.4" r="3.15"/>
<circle cx="1649.8" cy="312.4" r="3.15"/>
<circle cx="1636.2" cy="316.3" r="3.15"/>
<circle cx="1645.9" cy="316.3" r="3.15"/>
<circle cx="1618.6" cy="324.1" r="3.15"/>
<circle cx="1623.3" cy="325.4" r="3.15"/>
<circle cx="1627.7" cy="328" r="3.15"/>
<circle cx="1636.2" cy="328" r="3.15"/>
<circle cx="1640.7" cy="328" r="3.15"/>
<circle cx="1622.5" cy="331.3" r="3.15"/>
<circle cx="1631.6" cy="335" r="3.15"/>
<circle cx="1631.6" cy="344.9" r="3.15"/>
<circle cx="1636.2" cy="345.4" r="3.15"/>
<circle cx="1640.7" cy="349.5" r="3.15"/>
<circle cx="1627.7" cy="353.2" r="3.15"/>
<circle cx="1631.6" cy="354" r="3.15"/>
<circle cx="1636.2" cy="353.2" r="3.15"/>
<circle cx="1627.7" cy="363" r="3.15"/>
<circle cx="1631.6" cy="363" r="3.15"/>
<circle cx="1636.2" cy="363" r="3.15"/>
<circle cx="1622.5" cy="368.2" r="3.15"/>
<circle cx="1640.7" cy="368.2" r="3.15"/>
<circle cx="1627.7" cy="374" r="3.15"/>
<circle cx="1636.2" cy="374" r="3.15"/>
<circle cx="1631.6" cy="379.9" r="3.15"/>
<circle cx="1631.6" cy="386.4" r="3.15"/>
<circle cx="1631.6" cy="411.1" r="3.15"/>
<circle cx="1631.6" cy="439.7" r="3.15"/>
</g>
<g fill="#ff2600" stroke="#3a0c04" stroke-width="0.8">
<rect x="1689.8" y="218.17" width="6" height="6"/>
<rect x="1693.2" y="217.9" width="6" height="6"/>
<rect x="1696.6" y="218.24" width="6" height="6"/>
<rect x="1689.8" y="222.96" width="6" height="6"/>
<rect x="1693.2" y="221.46" width="6" height="6"/>
<rect x="1689.8" y="227.74" width="6" height="6"/>
<rect x="1696.6" y="228.5" width="6" height="6"/>
<rect x="1700" y="227.52" width="6" height="6"/>
<rect x="1696.6" y="230.57" width="6" height="6"/>
<rect x="1696.6" y="236.23" width="6" height="6"/>
<rect x="1700" y="236.45" width="6" height="6"/>
<rect x="1683" y="241" width="6" height="6"/>
<rect x="1686.4" y="240.88" width="6" height="6"/>
<rect x="1693.2" y="242.39" width="6" height="6"/>
<rect x="1696.6" y="241.58" width="6" height="6"/>
<rect x="1686.4" y="245.32" width="6" height="6"/>
<rect x="1689.8" y="245.28" width="6" height="6"/>
<rect x="1693.2" y="246.57" width="6" height="6"/>
<rect x="1703.4" y="245.52" width="6" height="6"/>
<rect x="1706.8" y="245.31" width="6" height="6"/>
<rect x="1683" y="250.98" width="6" height="6"/>
<rect x="1696.6" y="250.92" width="6" height="6"/>
<rect x="1683" y="253.9" width="6" height="6"/>
<rect x="1686.4" y="254.65" width="6" height="6"/>
<rect x="1693.2" y="253.77" width="6" height="6"/>
<rect x="1696.6" y="253.73" width="6" height="6"/>
<rect x="1683" y="260.25" width="6" height="6"/>
<rect x="1689.8" y="258.59" width="6" height="6"/>
<rect x="1696.6" y="259.8" width="6" height="6"/>
<rect x="1703.4" y="258.6" width="6" height="6"/>
<rect x="1683" y="263.52" width="6" height="6"/>
<rect x="1696.6" y="263.28" width="6" height="6"/>
<rect x="1700" y="263.64" width="6" height="6"/>
<rect x="1703.4" y="265.29" width="6" height="6"/>
<rect x="1706.8" y="264.21" width="6" height="6"/>
<rect x="1710.2" y="263.11" width="6" height="6"/>
<rect x="1676.2" y="269.49" width="6" height="6"/>
<rect x="1686.4" y="269.83" width="6" height="6"/>
<rect x="1693.2" y="269.67" width="6" height="6"/>
<rect x="1696.6" y="268.38" width="6" height="6"/>
<rect x="1706.8" y="267.87" width="6" height="6"/>
<rect x="1710.2" y="267.92" width="6" height="6"/>
<rect x="1713.6" y="268.87" width="6" height="6"/>
<rect x="1672.8" y="271.99" width="6" height="6"/>
<rect x="1679.6" y="274.19" width="6" height="6"/>
<rect x="1683" y="272.58" width="6" height="6"/>
<rect x="1686.4" y="272.37" width="6" height="6"/>
<rect x="1710.2" y="272.17" width="6" height="6"/>
<rect x="1717" y="274.55" width="6" height="6"/>
<rect x="1672.8" y="278.34" width="6" height="6"/>
<rect x="1676.2" y="276.79" width="6" height="6"/>
<rect x="1686.4" y="278.36" width="6" height="6"/>
<rect x="1689.8" y="276.46" width="6" height="6"/>
<rect x="1693.2" y="277.75" width="6" height="6"/>
<rect x="1696.6" y="277.29" width="6" height="6"/>
<rect x="1700" y="276.61" width="6" height="6"/>
<rect x="1703.4" y="278.46" width="6" height="6"/>
<rect x="1706.8" y="278.46" width="6" height="6"/>
<rect x="1710.2" y="278.62" width="6" height="6"/>
<rect x="1713.6" y="277.39" width="6" height="6"/>
<rect x="1717" y="278.92" width="6" height="6"/>
<rect x="1672.8" y="282.17" width="6" height="6"/>
<rect x="1676.2" y="283.42" width="6" height="6"/>
<rect x="1679.6" y="282.75" width="6" height="6"/>
<rect x="1686.4" y="282.7" width="6" height="6"/>
<rect x="1693.2" y="283.78" width="6" height="6"/>
<rect x="1696.6" y="283.04" width="6" height="6"/>
<rect x="1703.4" y="282.63" width="6" height="6"/>
<rect x="1710.2" y="281.23" width="6" height="6"/>
<rect x="1672.8" y="285.68" width="6" height="6"/>
<rect x="1676.2" y="286.95" width="6" height="6"/>
<rect x="1683" y="286.99" width="6" height="6"/>
<rect x="1686.4" y="288.18" width="6" height="6"/>
<rect x="1700" y="286.17" width="6" height="6"/>
<rect x="1706.8" y="287.45" width="6" height="6"/>
<rect x="1672.8" y="291.12" width="6" height="6"/>
<rect x="1676.2" y="290.76" width="6" height="6"/>
<rect x="1683" y="292.76" width="6" height="6"/>
<rect x="1686.4" y="291.28" width="6" height="6"/>
<rect x="1689.8" y="291.09" width="6" height="6"/>
<rect x="1696.6" y="292.54" width="6" height="6"/>
<rect x="1700" y="292.19" width="6" height="6"/>
<rect x="1703.4" y="290.98" width="6" height="6"/>
<rect x="1710.2" y="290.97" width="6" height="6"/>
<rect x="1679.6" y="296.18" width="6" height="6"/>
<rect x="1686.4" y="297.55" width="6" height="6"/>
<rect x="1689.8" y="295.01" width="6" height="6"/>
<rect x="1696.6" y="294.92" width="6" height="6"/>
<rect x="1700" y="296.4" width="6" height="6"/>
<rect x="1706.8" y="294.85" width="6" height="6"/>
<rect x="1672.8" y="299.47" width="6" height="6"/>
<rect x="1676.2" y="300.06" width="6" height="6"/>
<rect x="1686.4" y="300.65" width="6" height="6"/>
<rect x="1689.8" y="301.23" width="6" height="6"/>
<rect x="1693.2" y="302.08" width="6" height="6"/>
<rect x="1696.6" y="299.96" width="6" height="6"/>
<rect x="1700" y="299.9" width="6" height="6"/>
<rect x="1706.8" y="301.4" width="6" height="6"/>
<rect x="1676.2" y="305.46" width="6" height="6"/>
<rect x="1679.6" y="306.12" width="6" height="6"/>
<rect x="1686.4" y="306.54" width="6" height="6"/>
<rect x="1693.2" y="306.02" width="6" height="6"/>
<rect x="1700" y="305.75" width="6" height="6"/>
<rect x="1703.4" y="305.06" width="6" height="6"/>
<rect x="1706.8" y="306.46" width="6" height="6"/>
<rect x="1710.2" y="306.64" width="6" height="6"/>
<rect x="1713.6" y="305.82" width="6" height="6"/>
<rect x="1679.6" y="310.89" width="6" height="6"/>
<rect x="1683" y="310.61" width="6" height="6"/>
<rect x="1689.8" y="311.35" width="6" height="6"/>
<rect x="1693.2" y="310.1" width="6" height="6"/>
<rect x="1696.6" y="309.5" width="6" height="6"/>
<rect x="1700" y="311" width="6" height="6"/>
<rect x="1676.2" y="315.35" width="6" height="6"/>
<rect x="1679.6" y="313.28" width="6" height="6"/>
<rect x="1683" y="313.38" width="6" height="6"/>
<rect x="1686.4" y="313.68" width="6" height="6"/>
<rect x="1693.2" y="313.59" width="6" height="6"/>
<rect x="1700" y="315.23" width="6" height="6"/>
<rect x="1703.4" y="315.13" width="6" height="6"/>
<rect x="1706.8" y="314.58" width="6" height="6"/>
<rect x="1710.2" y="313.44" width="6" height="6"/>
<rect x="1679.6" y="318.61" width="6" height="6"/>
<rect x="1683" y="319.59" width="6" height="6"/>
<rect x="1686.4" y="320.16" width="6" height="6"/>
<rect x="1689.8" y="318.67" width="6" height="6"/>
<rect x="1696.6" y="320.32" width="6" height="6"/>
<rect x="1703.4" y="320.51" width="6" height="6"/>
<rect x="1706.8" y="319.4" width="6" height="6"/>
<rect x="1676.2" y="323.81" width="6" height="6"/>
<rect x="1679.6" y="322.48" width="6" height="6"/>
<rect x="1683" y="323.84" width="6" height="6"/>
<rect x="1689.8" y="323.98" width="6" height="6"/>
<rect x="1693.2" y="324.33" width="6" height="6"/>
<rect x="1700" y="323.56" width="6" height="6"/>
<rect x="1703.4" y="324.99" width="6" height="6"/>
<rect x="1710.2" y="322.76" width="6" height="6"/>
<rect x="1683" y="329.52" width="6" height="6"/>
<rect x="1686.4" y="327.89" width="6" height="6"/>
<rect x="1693.2" y="329.59" width="6" height="6"/>
<rect x="1700" y="327.06" width="6" height="6"/>
<rect x="1679.6" y="332.5" width="6" height="6"/>
<rect x="1686.4" y="331.89" width="6" height="6"/>
<rect x="1689.8" y="331.94" width="6" height="6"/>
<rect x="1693.2" y="332.3" width="6" height="6"/>
<rect x="1700" y="332.82" width="6" height="6"/>
<rect x="1683" y="336.65" width="6" height="6"/>
<rect x="1689.8" y="337.99" width="6" height="6"/>
<rect x="1693.2" y="338.58" width="6" height="6"/>
<rect x="1696.6" y="338.6" width="6" height="6"/>
<rect x="1703.4" y="338.47" width="6" height="6"/>
<rect x="1683" y="341.68" width="6" height="6"/>
<rect x="1689.8" y="341.41" width="6" height="6"/>
<rect x="1693.2" y="343.29" width="6" height="6"/>
<rect x="1703.4" y="341.53" width="6" height="6"/>
<rect x="1689.8" y="346.58" width="6" height="6"/>
<rect x="1693.2" y="345.75" width="6" height="6"/>
<rect x="1700" y="345.45" width="6" height="6"/>
<rect x="1689.8" y="352.55" width="6" height="6"/>
<rect x="1693.2" y="350.32" width="6" height="6"/>
<rect x="1696.6" y="352.12" width="6" height="6"/>
<rect x="1700" y="351.92" width="6" height="6"/>
<rect x="1700" y="356.04" width="6" height="6"/>
<rect x="1703.4" y="355.01" width="6" height="6"/>
<rect x="1686.4" y="361.97" width="6" height="6"/>
<rect x="1689.8" y="359.47" width="6" height="6"/>
<rect x="1696.6" y="360.49" width="6" height="6"/>
<rect x="1700" y="360.12" width="6" height="6"/>
<rect x="1703.4" y="360.64" width="6" height="6"/>
<rect x="1693.2" y="363.84" width="6" height="6"/>
<rect x="1696.6" y="366.16" width="6" height="6"/>
<rect x="1693.2" y="164.4" width="6" height="6"/>
<rect x="1693.2" y="377" width="6" height="6"/>
<rect x="1693.2" y="383.4" width="6" height="6"/>
<rect x="1693.2" y="390.7" width="6" height="6"/>
<rect x="1693.2" y="408.1" width="6" height="6"/>
<rect x="1690" y="374.9" width="6" height="6"/>
</g>
<line x1="1432" y1="281.7" x2="1495.7" y2="281.7" stroke="#000" stroke-width="4" stroke-linecap="butt"/>
<line x1="1450" y1="244.1" x2="1478.5" y2="244.1" stroke="#000" stroke-width="4" stroke-linecap="round"/>
<line x1="1450" y1="312" x2="1478.5" y2="312" stroke="#000" stroke-width="4" stroke-linecap="round"/>
<line x1="1463.8" y1="244.1" x2="1463.8" y2="312" stroke="#000" stroke-width="3.6" stroke-linecap="butt"/>
<line x1="1496.5" y1="293" x2="1560.4" y2="293" stroke="#000" stroke-width="4" stroke-linecap="butt"/>
<line x1="1514.5" y1="264.2" x2="1543" y2="264.2" stroke="#000" stroke-width="4" stroke-linecap="round"/>
<line x1="1514.5" y1="328.7" x2="1543" y2="328.7" stroke="#000" stroke-width="4" stroke-linecap="round"/>
<line x1="1528.2" y1="264.2" x2="1528.2" y2="328.7" stroke="#000" stroke-width="3.6" stroke-linecap="butt"/>
<line x1="1599.9" y1="296.3" x2="1664" y2="296.3" stroke="#000" stroke-width="4" stroke-linecap="butt"/>
<line x1="1617.3" y1="266.4" x2="1646.6" y2="266.4" stroke="#000" stroke-width="4" stroke-linecap="round"/>
<line x1="1617.3" y1="324.9" x2="1646.6" y2="324.9" stroke="#000" stroke-width="4" stroke-linecap="round"/>
<line x1="1631.6" y1="266.4" x2="1631.6" y2="324.9" stroke="#000" stroke-width="3.6" stroke-linecap="butt"/>
<line x1="1664.8" y1="297.3" x2="1728.2" y2="297.3" stroke="#000" stroke-width="4" stroke-linecap="butt"/>
<line x1="1682.2" y1="273.4" x2="1710" y2="273.4" stroke="#000" stroke-width="4" stroke-linecap="round"/>
<line x1="1682.2" y1="331.3" x2="1710" y2="331.3" stroke="#000" stroke-width="4" stroke-linecap="round"/>
<line x1="1696" y1="273.4" x2="1696" y2="331.3" stroke="#000" stroke-width="3.6" stroke-linecap="butt"/>
<line x1="505.9" y1="557" x2="505.9" y2="1024.5" stroke="#000" stroke-width="3" stroke-linecap="butt"/>
<line x1="491" y1="1022.9" x2="505.9" y2="1022.9" stroke="#000" stroke-width="2.8" stroke-linecap="butt"/>
<text transform="translate(488.5 1030.4)" font-size="21.7" text-anchor="end" font-weight="bold">1</text>
<line x1="497.6" y1="994.96" x2="505.9" y2="994.96" stroke="#000" stroke-width="2.6" stroke-linecap="butt"/>
<line x1="497.6" y1="978.62" x2="505.9" y2="978.62" stroke="#000" stroke-width="2.6" stroke-linecap="butt"/>
<line x1="497.6" y1="967.03" x2="505.9" y2="967.03" stroke="#000" stroke-width="2.6" stroke-linecap="butt"/>
<line x1="497.6" y1="958.04" x2="505.9" y2="958.04" stroke="#000" stroke-width="2.6" stroke-linecap="butt"/>
<line x1="497.6" y1="950.69" x2="505.9" y2="950.69" stroke="#000" stroke-width="2.6" stroke-linecap="butt"/>
<line x1="497.6" y1="944.47" x2="505.9" y2="944.47" stroke="#000" stroke-width="2.6" stroke-linecap="butt"/>
<line x1="497.6" y1="939.09" x2="505.9" y2="939.09" stroke="#000" stroke-width="2.6" stroke-linecap="butt"/>
<line x1="497.6" y1="934.35" x2="505.9" y2="934.35" stroke="#000" stroke-width="2.6" stroke-linecap="butt"/>
<line x1="491" y1="930.1" x2="505.9" y2="930.1" stroke="#000" stroke-width="2.8" stroke-linecap="butt"/>
<text transform="translate(488.5 937.6)" font-size="21.7" text-anchor="end" font-weight="bold">10</text>
<line x1="497.6" y1="902.16" x2="505.9" y2="902.16" stroke="#000" stroke-width="2.6" stroke-linecap="butt"/>
<line x1="497.6" y1="885.82" x2="505.9" y2="885.82" stroke="#000" stroke-width="2.6" stroke-linecap="butt"/>
<line x1="497.6" y1="874.23" x2="505.9" y2="874.23" stroke="#000" stroke-width="2.6" stroke-linecap="butt"/>
<line x1="497.6" y1="865.24" x2="505.9" y2="865.24" stroke="#000" stroke-width="2.6" stroke-linecap="butt"/>
<line x1="497.6" y1="857.89" x2="505.9" y2="857.89" stroke="#000" stroke-width="2.6" stroke-linecap="butt"/>
<line x1="497.6" y1="851.67" x2="505.9" y2="851.67" stroke="#000" stroke-width="2.6" stroke-linecap="butt"/>
<line x1="497.6" y1="846.29" x2="505.9" y2="846.29" stroke="#000" stroke-width="2.6" stroke-linecap="butt"/>
<line x1="497.6" y1="841.55" x2="505.9" y2="841.55" stroke="#000" stroke-width="2.6" stroke-linecap="butt"/>
<line x1="491" y1="837.3" x2="505.9" y2="837.3" stroke="#000" stroke-width="2.8" stroke-linecap="butt"/>
<text transform="translate(488.5 844.8)" font-size="21.7" text-anchor="end" font-weight="bold">100</text>
<line x1="497.6" y1="809.36" x2="505.9" y2="809.36" stroke="#000" stroke-width="2.6" stroke-linecap="butt"/>
<line x1="497.6" y1="793.02" x2="505.9" y2="793.02" stroke="#000" stroke-width="2.6" stroke-linecap="butt"/>
<line x1="497.6" y1="781.43" x2="505.9" y2="781.43" stroke="#000" stroke-width="2.6" stroke-linecap="butt"/>
<line x1="497.6" y1="772.44" x2="505.9" y2="772.44" stroke="#000" stroke-width="2.6" stroke-linecap="butt"/>
<line x1="497.6" y1="765.09" x2="505.9" y2="765.09" stroke="#000" stroke-width="2.6" stroke-linecap="butt"/>
<line x1="497.6" y1="758.87" x2="505.9" y2="758.87" stroke="#000" stroke-width="2.6" stroke-linecap="butt"/>
<line x1="497.6" y1="753.49" x2="505.9" y2="753.49" stroke="#000" stroke-width="2.6" stroke-linecap="butt"/>
<line x1="497.6" y1="748.75" x2="505.9" y2="748.75" stroke="#000" stroke-width="2.6" stroke-linecap="butt"/>
<line x1="491" y1="744.5" x2="505.9" y2="744.5" stroke="#000" stroke-width="2.8" stroke-linecap="butt"/>
<text transform="translate(488.5 752)" font-size="21.7" text-anchor="end" font-weight="bold">1000</text>
<line x1="497.6" y1="716.56" x2="505.9" y2="716.56" stroke="#000" stroke-width="2.6" stroke-linecap="butt"/>
<line x1="497.6" y1="700.22" x2="505.9" y2="700.22" stroke="#000" stroke-width="2.6" stroke-linecap="butt"/>
<line x1="497.6" y1="688.63" x2="505.9" y2="688.63" stroke="#000" stroke-width="2.6" stroke-linecap="butt"/>
<line x1="497.6" y1="679.64" x2="505.9" y2="679.64" stroke="#000" stroke-width="2.6" stroke-linecap="butt"/>
<line x1="497.6" y1="672.29" x2="505.9" y2="672.29" stroke="#000" stroke-width="2.6" stroke-linecap="butt"/>
<line x1="497.6" y1="666.07" x2="505.9" y2="666.07" stroke="#000" stroke-width="2.6" stroke-linecap="butt"/>
<line x1="497.6" y1="660.69" x2="505.9" y2="660.69" stroke="#000" stroke-width="2.6" stroke-linecap="butt"/>
<line x1="497.6" y1="655.95" x2="505.9" y2="655.95" stroke="#000" stroke-width="2.6" stroke-linecap="butt"/>
<line x1="491" y1="651.7" x2="505.9" y2="651.7" stroke="#000" stroke-width="2.8" stroke-linecap="butt"/>
<text transform="translate(488.5 659.2)" font-size="21.7" text-anchor="end" font-weight="bold">10000</text>
<line x1="497.6" y1="623.76" x2="505.9" y2="623.76" stroke="#000" stroke-width="2.6" stroke-linecap="butt"/>
<line x1="497.6" y1="607.42" x2="505.9" y2="607.42" stroke="#000" stroke-width="2.6" stroke-linecap="butt"/>
<line x1="497.6" y1="595.83" x2="505.9" y2="595.83" stroke="#000" stroke-width="2.6" stroke-linecap="butt"/>
<line x1="497.6" y1="586.84" x2="505.9" y2="586.84" stroke="#000" stroke-width="2.6" stroke-linecap="butt"/>
<line x1="497.6" y1="579.49" x2="505.9" y2="579.49" stroke="#000" stroke-width="2.6" stroke-linecap="butt"/>
<line x1="497.6" y1="573.27" x2="505.9" y2="573.27" stroke="#000" stroke-width="2.6" stroke-linecap="butt"/>
<line x1="497.6" y1="567.89" x2="505.9" y2="567.89" stroke="#000" stroke-width="2.6" stroke-linecap="butt"/>
<line x1="497.6" y1="563.15" x2="505.9" y2="563.15" stroke="#000" stroke-width="2.6" stroke-linecap="butt"/>
<line x1="491" y1="558.9" x2="505.9" y2="558.9" stroke="#000" stroke-width="2.8" stroke-linecap="butt"/>
<text transform="translate(488.5 566.4)" font-size="21.7" text-anchor="end" font-weight="bold">100000</text>
<line x1="491.5" y1="1023.2" x2="1308.9" y2="1023.2" stroke="#000" stroke-width="3" stroke-linecap="butt"/>
<line x1="524.4" y1="1023" x2="524.4" y2="1038.3" stroke="#000" stroke-width="3" stroke-linecap="butt"/>
<line x1="548" y1="1023" x2="548" y2="1038.3" stroke="#000" stroke-width="3" stroke-linecap="butt"/>
<text transform="translate(549 1045.6) rotate(-90) scale(1 1.04)" font-size="33.3" text-anchor="end" font-weight="normal">TNF-RI</text>
<line x1="585.45" y1="1023" x2="585.45" y2="1038.3" stroke="#000" stroke-width="3" stroke-linecap="butt"/>
<line x1="609.05" y1="1023" x2="609.05" y2="1038.3" stroke="#000" stroke-width="3" stroke-linecap="butt"/>
<text transform="translate(610.05 1045.6) rotate(-90) scale(1 1.04)" font-size="33.3" text-anchor="end" font-weight="normal">IL-1&#946;</text>
<line x1="646.5" y1="1023" x2="646.5" y2="1038.3" stroke="#000" stroke-width="3" stroke-linecap="butt"/>
<line x1="670.1" y1="1023" x2="670.1" y2="1038.3" stroke="#000" stroke-width="3" stroke-linecap="butt"/>
<text transform="translate(671.1 1045.6) rotate(-90) scale(1 1.04)" font-size="33.3" text-anchor="end" font-weight="normal">IL-2</text>
<line x1="707.55" y1="1023" x2="707.55" y2="1038.3" stroke="#000" stroke-width="3" stroke-linecap="butt"/>
<line x1="731.15" y1="1023" x2="731.15" y2="1038.3" stroke="#000" stroke-width="3" stroke-linecap="butt"/>
<text transform="translate(732.15 1045.6) rotate(-90) scale(1 1.04)" font-size="33.3" text-anchor="end" font-weight="normal">IL-4</text>
<line x1="768.6" y1="1023" x2="768.6" y2="1038.3" stroke="#000" stroke-width="3" stroke-linecap="butt"/>
<line x1="792.2" y1="1023" x2="792.2" y2="1038.3" stroke="#000" stroke-width="3" stroke-linecap="butt"/>
<text transform="translate(793.2 1045.6) rotate(-90) scale(1 1.04)" font-size="33.3" text-anchor="end" font-weight="normal">IL-5</text>
<line x1="829.65" y1="1023" x2="829.65" y2="1038.3" stroke="#000" stroke-width="3" stroke-linecap="butt"/>
<line x1="853.25" y1="1023" x2="853.25" y2="1038.3" stroke="#000" stroke-width="3" stroke-linecap="butt"/>
<text transform="translate(854.25 1045.6) rotate(-90) scale(1 1.04)" font-size="33.3" text-anchor="end" font-weight="normal">IL-6</text>
<line x1="890.7" y1="1023" x2="890.7" y2="1038.3" stroke="#000" stroke-width="3" stroke-linecap="butt"/>
<line x1="914.3" y1="1023" x2="914.3" y2="1038.3" stroke="#000" stroke-width="3" stroke-linecap="butt"/>
<text transform="translate(915.3 1045.6) rotate(-90) scale(1 1.04)" font-size="33.3" text-anchor="end" font-weight="normal">IL-7</text>
<line x1="951.75" y1="1023" x2="951.75" y2="1038.3" stroke="#000" stroke-width="3" stroke-linecap="butt"/>
<line x1="975.35" y1="1023" x2="975.35" y2="1038.3" stroke="#000" stroke-width="3" stroke-linecap="butt"/>
<text transform="translate(976.35 1045.6) rotate(-90) scale(1 1.04)" font-size="33.3" text-anchor="end" font-weight="normal">IL-8</text>
<line x1="1012.8" y1="1023" x2="1012.8" y2="1038.3" stroke="#000" stroke-width="3" stroke-linecap="butt"/>
<line x1="1036.4" y1="1023" x2="1036.4" y2="1038.3" stroke="#000" stroke-width="3" stroke-linecap="butt"/>
<text transform="translate(1037.4 1045.6) rotate(-90) scale(1 1.04)" font-size="33.3" text-anchor="end" font-weight="normal">MDC</text>
<line x1="1073.85" y1="1023" x2="1073.85" y2="1038.3" stroke="#000" stroke-width="3" stroke-linecap="butt"/>
<line x1="1097.45" y1="1023" x2="1097.45" y2="1038.3" stroke="#000" stroke-width="3" stroke-linecap="butt"/>
<text transform="translate(1098.45 1045.6) rotate(-90) scale(1 1.04)" font-size="33.3" text-anchor="end" font-weight="normal">IP-10</text>
<line x1="1134.9" y1="1023" x2="1134.9" y2="1038.3" stroke="#000" stroke-width="3" stroke-linecap="butt"/>
<line x1="1158.5" y1="1023" x2="1158.5" y2="1038.3" stroke="#000" stroke-width="3" stroke-linecap="butt"/>
<text transform="translate(1159.5 1045.6) rotate(-90) scale(1 1.04)" font-size="33.3" text-anchor="end" font-weight="normal">MCP-1</text>
<line x1="1195.95" y1="1023" x2="1195.95" y2="1038.3" stroke="#000" stroke-width="3" stroke-linecap="butt"/>
<line x1="1219.55" y1="1023" x2="1219.55" y2="1038.3" stroke="#000" stroke-width="3" stroke-linecap="butt"/>
<text transform="translate(1220.55 1045.6) rotate(-90) scale(1 1.04)" font-size="33.3" text-anchor="end" font-weight="normal">TARC</text>
<line x1="1257" y1="1023" x2="1257" y2="1038.3" stroke="#000" stroke-width="3" stroke-linecap="butt"/>
<line x1="1280.6" y1="1023" x2="1280.6" y2="1038.3" stroke="#000" stroke-width="3" stroke-linecap="butt"/>
<text transform="translate(1281.6 1045.6) rotate(-90) scale(1 1.04)" font-size="33.3" text-anchor="end" font-weight="normal">MIP-1&#945;</text>
<text transform="translate(401.6 965.2) rotate(-90) scale(1 1.05)" font-size="33.25" text-anchor="start" font-weight="normal">Cytokine range [pg/mL]</text>
<text transform="translate(308.4 579.9)" font-size="42.9" text-anchor="start" font-weight="normal">d.</text>
<line x1="521.9" y1="548.2" x2="521.9" y2="567.6" stroke="#000" stroke-width="4.4" stroke-linecap="round"/>
<line x1="545.3" y1="548.2" x2="545.3" y2="567.6" stroke="#000" stroke-width="4.4" stroke-linecap="round"/>
<line x1="521.9" y1="557.6" x2="545.3" y2="557.6" stroke="#000" stroke-width="4.6" stroke-linecap="butt"/>
<text transform="translate(533.75 550)" font-size="20" text-anchor="middle" font-weight="bold" font-family="'DejaVu Sans', sans-serif" stroke="#000" stroke-width="1" stroke-linejoin="round">****</text>
<line x1="646.4" y1="548.2" x2="646.4" y2="567.6" stroke="#000" stroke-width="4.4" stroke-linecap="round"/>
<line x1="669.8" y1="548.2" x2="669.8" y2="567.6" stroke="#000" stroke-width="4.4" stroke-linecap="round"/>
<line x1="646.4" y1="557.6" x2="669.8" y2="557.6" stroke="#000" stroke-width="4.6" stroke-linecap="butt"/>
<text transform="translate(657.3 550)" font-size="20" text-anchor="middle" font-weight="bold" font-family="'DejaVu Sans', sans-serif" stroke="#000" stroke-width="1" stroke-linejoin="round">****</text>
<line x1="709.1" y1="548.2" x2="709.1" y2="567.6" stroke="#000" stroke-width="4.4" stroke-linecap="round"/>
<line x1="733.6" y1="548.2" x2="733.6" y2="567.6" stroke="#000" stroke-width="4.4" stroke-linecap="round"/>
<line x1="709.1" y1="557.6" x2="733.6" y2="557.6" stroke="#000" stroke-width="4.6" stroke-linecap="butt"/>
<text transform="translate(722.3 550)" font-size="20" text-anchor="middle" font-weight="bold" font-family="'DejaVu Sans', sans-serif" stroke="#000" stroke-width="1" stroke-linejoin="round">*</text>
<line x1="768.9" y1="548.2" x2="768.9" y2="567.6" stroke="#000" stroke-width="4.4" stroke-linecap="round"/>
<line x1="793.3" y1="548.2" x2="793.3" y2="567.6" stroke="#000" stroke-width="4.4" stroke-linecap="round"/>
<line x1="768.9" y1="557.6" x2="793.3" y2="557.6" stroke="#000" stroke-width="4.6" stroke-linecap="butt"/>
<text transform="translate(781.55 550)" font-size="20" text-anchor="middle" font-weight="bold" font-family="'DejaVu Sans', sans-serif" stroke="#000" stroke-width="1" stroke-linejoin="round">****</text>
<line x1="895.1" y1="548.2" x2="895.1" y2="565.4" stroke="#000" stroke-width="4.4" stroke-linecap="round"/>
<line x1="918.5" y1="548.2" x2="918.5" y2="565.4" stroke="#000" stroke-width="4.4" stroke-linecap="round"/>
<line x1="895.1" y1="556.5" x2="918.5" y2="556.5" stroke="#000" stroke-width="4.6" stroke-linecap="butt"/>
<text transform="translate(905.8 548.9)" font-size="20" text-anchor="middle" font-weight="bold" font-family="'DejaVu Sans', sans-serif" stroke="#000" stroke-width="1" stroke-linejoin="round">****</text>
<line x1="1014.1" y1="548.2" x2="1014.1" y2="565.4" stroke="#000" stroke-width="4.4" stroke-linecap="round"/>
<line x1="1036.5" y1="548.2" x2="1036.5" y2="565.4" stroke="#000" stroke-width="4.4" stroke-linecap="round"/>
<line x1="1014.1" y1="556.5" x2="1036.5" y2="556.5" stroke="#000" stroke-width="4.6" stroke-linecap="butt"/>
<text transform="translate(1024.65 548.9)" font-size="20" text-anchor="middle" font-weight="bold" font-family="'DejaVu Sans', sans-serif" stroke="#000" stroke-width="1" stroke-linejoin="round">****</text>
<line x1="1072.9" y1="548.2" x2="1072.9" y2="565.4" stroke="#000" stroke-width="4.4" stroke-linecap="round"/>
<line x1="1094.4" y1="548.2" x2="1094.4" y2="565.4" stroke="#000" stroke-width="4.4" stroke-linecap="round"/>
<line x1="1072.9" y1="556.5" x2="1094.4" y2="556.5" stroke="#000" stroke-width="4.6" stroke-linecap="butt"/>
<text transform="translate(1083.65 548.9)" font-size="20" text-anchor="middle" font-weight="bold" font-family="'DejaVu Sans', sans-serif" stroke="#000" stroke-width="1" stroke-linejoin="round">***</text>
<line x1="1258.5" y1="548.7" x2="1258.5" y2="566.1" stroke="#000" stroke-width="4.4" stroke-linecap="round"/>
<line x1="1282.7" y1="548.7" x2="1282.7" y2="566.1" stroke="#000" stroke-width="4.4" stroke-linecap="round"/>
<line x1="1258.5" y1="557.1" x2="1282.7" y2="557.1" stroke="#000" stroke-width="4.6" stroke-linecap="butt"/>
<text transform="translate(1270.95 550.6)" font-size="20" text-anchor="middle" font-weight="bold" font-family="'DejaVu Sans', sans-serif" stroke="#000" stroke-width="1" stroke-linejoin="round">**</text>
<g fill="#0028ff" stroke="#05050a" stroke-width="1">
<circle cx="524.4" cy="622.2" r="4.75"/>
<circle cx="524.4" cy="652" r="4.75"/>
<circle cx="524.4" cy="657.14" r="4.75"/>
<circle cx="524.4" cy="662.27" r="4.75"/>
<circle cx="524.4" cy="667.41" r="4.75"/>
<circle cx="524.4" cy="672.55" r="4.75"/>
<circle cx="524.4" cy="677.68" r="4.75"/>
<circle cx="524.4" cy="682.82" r="4.75"/>
<circle cx="524.4" cy="687.95" r="4.75"/>
<circle cx="524.4" cy="693.09" r="4.75"/>
<circle cx="524.4" cy="698.23" r="4.75"/>
<circle cx="524.4" cy="703.36" r="4.75"/>
<circle cx="524.4" cy="708.5" r="4.75"/>
<circle cx="524.4" cy="713.64" r="4.75"/>
<circle cx="524.4" cy="718.77" r="4.75"/>
<circle cx="524.4" cy="723.91" r="4.75"/>
<circle cx="524.4" cy="729.05" r="4.75"/>
<circle cx="524.4" cy="734.18" r="4.75"/>
<circle cx="524.4" cy="739.32" r="4.75"/>
<circle cx="524.4" cy="744.45" r="4.75"/>
<circle cx="524.4" cy="749.59" r="4.75"/>
<circle cx="524.4" cy="754.73" r="4.75"/>
<circle cx="524.4" cy="759.86" r="4.75"/>
<circle cx="524.4" cy="765" r="4.75"/>
</g>
<g fill="#ff2600" stroke="#3a0c04" stroke-width="0.9">
<rect x="543.2" y="609.3" width="9.6" height="9.6"/>
<rect x="543.2" y="622.2" width="9.6" height="9.6"/>
<rect x="543.2" y="631.2" width="9.6" height="9.6"/>
<rect x="543.2" y="639.2" width="9.6" height="9.6"/>
<rect x="543.2" y="644.2" width="9.6" height="9.6"/>
<rect x="543.2" y="649.2" width="9.6" height="9.6"/>
<rect x="543.2" y="654.2" width="9.6" height="9.6"/>
<rect x="543.2" y="659.2" width="9.6" height="9.6"/>
<rect x="543.2" y="664.2" width="9.6" height="9.6"/>
<rect x="543.2" y="669.2" width="9.6" height="9.6"/>
<rect x="543.2" y="674.2" width="9.6" height="9.6"/>
<rect x="543.2" y="679.2" width="9.6" height="9.6"/>
<rect x="543.2" y="684.2" width="9.6" height="9.6"/>
<rect x="543.2" y="689.2" width="9.6" height="9.6"/>
<rect x="543.2" y="694.2" width="9.6" height="9.6"/>
<rect x="543.2" y="699.2" width="9.6" height="9.6"/>
<rect x="543.2" y="704.2" width="9.6" height="9.6"/>
<rect x="543.2" y="709.2" width="9.6" height="9.6"/>
<rect x="543.2" y="714.2" width="9.6" height="9.6"/>
<rect x="543.2" y="728.5" width="9.6" height="9.6"/>
<rect x="543.2" y="730.7" width="9.6" height="9.6"/>
<rect x="543.2" y="745.7" width="9.6" height="9.6"/>
<rect x="543.2" y="763.2" width="9.6" height="9.6"/>
<rect x="543.2" y="769.2" width="9.6" height="9.6"/>
</g>
<line x1="524.4" y1="681.5" x2="524.4" y2="713.5" stroke="#000" stroke-width="1.6" stroke-linecap="butt"/>
<line x1="519.4" y1="681.5" x2="529.4" y2="681.5" stroke="#000" stroke-width="1.6" stroke-linecap="butt"/>
<line x1="519.4" y1="713.5" x2="529.4" y2="713.5" stroke="#000" stroke-width="1.6" stroke-linecap="butt"/>
<line x1="514.9" y1="697.4" x2="533.9" y2="697.4" stroke="#000" stroke-width="4.6" stroke-linecap="butt"/>
<line x1="548" y1="656" x2="548" y2="697.9" stroke="#000" stroke-width="1.6" stroke-linecap="butt"/>
<line x1="543" y1="656" x2="553" y2="656" stroke="#000" stroke-width="1.6" stroke-linecap="butt"/>
<line x1="543" y1="697.9" x2="553" y2="697.9" stroke="#000" stroke-width="1.6" stroke-linecap="butt"/>
<line x1="538.5" y1="683.1" x2="557.5" y2="683.1" stroke="#000" stroke-width="4.6" stroke-linecap="butt"/>
<g fill="#0028ff" stroke="#05050a" stroke-width="1">
<circle cx="585.45" cy="812.3" r="4.75"/>
<circle cx="585.45" cy="874" r="4.75"/>
<circle cx="585.45" cy="893" r="4.75"/>
<circle cx="585.45" cy="896.3" r="4.75"/>
<circle cx="585.45" cy="905.3" r="4.75"/>
</g>
<g fill="#ff2600" stroke="#3a0c04" stroke-width="0.9">
<rect x="604.25" y="744.1" width="9.6" height="9.6"/>
<rect x="604.25" y="794.3" width="9.6" height="9.6"/>
<rect x="604.25" y="824.3" width="9.6" height="9.6"/>
<rect x="604.25" y="854.7" width="9.6" height="9.6"/>
<rect x="604.25" y="859.87" width="9.6" height="9.6"/>
<rect x="604.25" y="865.03" width="9.6" height="9.6"/>
<rect x="604.25" y="870.2" width="9.6" height="9.6"/>
<rect x="604.25" y="875.37" width="9.6" height="9.6"/>
<rect x="604.25" y="880.53" width="9.6" height="9.6"/>
<rect x="604.25" y="885.7" width="9.6" height="9.6"/>
<rect x="604.25" y="890.87" width="9.6" height="9.6"/>
<rect x="604.25" y="896.03" width="9.6" height="9.6"/>
<rect x="604.25" y="901.2" width="9.6" height="9.6"/>
</g>
<line x1="575.95" y1="905.8" x2="594.95" y2="905.8" stroke="#000" stroke-width="4.6" stroke-linecap="butt"/>
<line x1="599.55" y1="905.8" x2="618.55" y2="905.8" stroke="#000" stroke-width="4.6" stroke-linecap="butt"/>
<g fill="#0028ff" stroke="#05050a" stroke-width="1">
<circle cx="646.5" cy="827" r="4.75"/>
<circle cx="646.5" cy="831.87" r="4.75"/>
<circle cx="646.5" cy="836.75" r="4.75"/>
<circle cx="646.5" cy="841.62" r="4.75"/>
<circle cx="646.5" cy="846.49" r="4.75"/>
<circle cx="646.5" cy="851.36" r="4.75"/>
<circle cx="646.5" cy="856.24" r="4.75"/>
<circle cx="646.5" cy="861.11" r="4.75"/>
<circle cx="646.5" cy="865.98" r="4.75"/>
<circle cx="646.5" cy="870.85" r="4.75"/>
<circle cx="646.5" cy="875.73" r="4.75"/>
<circle cx="646.5" cy="880.6" r="4.75"/>
<circle cx="646.5" cy="884" r="4.75"/>
</g>
<g fill="#ff2600" stroke="#3a0c04" stroke-width="0.9">
<rect x="665.3" y="802.2" width="9.6" height="9.6"/>
<rect x="665.3" y="807.13" width="9.6" height="9.6"/>
<rect x="665.3" y="812.07" width="9.6" height="9.6"/>
<rect x="665.3" y="817" width="9.6" height="9.6"/>
<rect x="665.3" y="821.93" width="9.6" height="9.6"/>
<rect x="665.3" y="826.87" width="9.6" height="9.6"/>
<rect x="665.3" y="831.8" width="9.6" height="9.6"/>
<rect x="665.3" y="836.73" width="9.6" height="9.6"/>
<rect x="665.3" y="841.67" width="9.6" height="9.6"/>
<rect x="665.3" y="846.6" width="9.6" height="9.6"/>
<rect x="665.3" y="851.53" width="9.6" height="9.6"/>
<rect x="665.3" y="856.47" width="9.6" height="9.6"/>
<rect x="665.3" y="861.4" width="9.6" height="9.6"/>
<rect x="665.3" y="866.33" width="9.6" height="9.6"/>
<rect x="665.3" y="871.27" width="9.6" height="9.6"/>
<rect x="665.3" y="876.2" width="9.6" height="9.6"/>
</g>
<line x1="637" y1="880.6" x2="656" y2="880.6" stroke="#000" stroke-width="4.6" stroke-linecap="butt"/>
<line x1="670.1" y1="839.5" x2="670.1" y2="875.7" stroke="#000" stroke-width="1.6" stroke-linecap="butt"/>
<line x1="665.1" y1="839.5" x2="675.1" y2="839.5" stroke="#000" stroke-width="1.6" stroke-linecap="butt"/>
<line x1="665.1" y1="875.7" x2="675.1" y2="875.7" stroke="#000" stroke-width="1.6" stroke-linecap="butt"/>
<line x1="660.6" y1="855.1" x2="679.6" y2="855.1" stroke="#000" stroke-width="4.6" stroke-linecap="butt"/>
<g fill="#0028ff" stroke="#05050a" stroke-width="1">
<circle cx="707.55" cy="893.9" r="4.75"/>
<circle cx="707.55" cy="898" r="4.75"/>
<circle cx="707.55" cy="901.3" r="4.75"/>
</g>
<g fill="#ff2600" stroke="#3a0c04" stroke-width="0.9">
<rect x="726.35" y="871.8" width="9.6" height="9.6"/>
<rect x="726.35" y="876.74" width="9.6" height="9.6"/>
<rect x="726.35" y="881.68" width="9.6" height="9.6"/>
<rect x="726.35" y="886.62" width="9.6" height="9.6"/>
<rect x="726.35" y="891.56" width="9.6" height="9.6"/>
<rect x="726.35" y="896.5" width="9.6" height="9.6"/>
</g>
<line x1="698.05" y1="901.3" x2="717.05" y2="901.3" stroke="#000" stroke-width="4.6" stroke-linecap="butt"/>
<line x1="721.65" y1="901.3" x2="740.65" y2="901.3" stroke="#000" stroke-width="4.6" stroke-linecap="butt"/>
<g fill="#0028ff" stroke="#05050a" stroke-width="1">
<circle cx="768.6" cy="806.6" r="4.75"/>
<circle cx="768.6" cy="809" r="4.75"/>
<circle cx="768.6" cy="817" r="4.75"/>
<circle cx="768.6" cy="846.1" r="4.75"/>
<circle cx="768.6" cy="902.9" r="4.75"/>
<circle cx="768.6" cy="904.9" r="4.75"/>
</g>
<g fill="#ff2600" stroke="#3a0c04" stroke-width="0.9">
<rect x="787.4" y="782.8" width="9.6" height="9.6"/>
<rect x="787.4" y="787.2" width="9.6" height="9.6"/>
<rect x="787.4" y="791.1" width="9.6" height="9.6"/>
<rect x="787.4" y="797.7" width="9.6" height="9.6"/>
<rect x="787.4" y="802.2" width="9.6" height="9.6"/>
<rect x="787.4" y="809.2" width="9.6" height="9.6"/>
<rect x="787.4" y="826.5" width="9.6" height="9.6"/>
<rect x="787.4" y="838.8" width="9.6" height="9.6"/>
<rect x="787.4" y="900.6" width="9.6" height="9.6"/>
</g>
<line x1="759.1" y1="905.9" x2="778.1" y2="905.9" stroke="#000" stroke-width="4.6" stroke-linecap="butt"/>
<line x1="792.2" y1="809.4" x2="792.2" y2="904.6" stroke="#000" stroke-width="1.6" stroke-linecap="butt"/>
<line x1="787.2" y1="809.4" x2="797.2" y2="809.4" stroke="#000" stroke-width="1.6" stroke-linecap="butt"/>
<line x1="787.2" y1="904.6" x2="797.2" y2="904.6" stroke="#000" stroke-width="1.6" stroke-linecap="butt"/>
<line x1="782.7" y1="809.4" x2="801.7" y2="809.4" stroke="#000" stroke-width="4.6" stroke-linecap="butt"/>
<g fill="#0028ff" stroke="#05050a" stroke-width="1">
<circle cx="829.65" cy="694" r="4.75"/>
<circle cx="829.65" cy="883.2" r="4.75"/>
<circle cx="829.65" cy="893" r="4.75"/>
<circle cx="829.65" cy="898" r="4.75"/>
<circle cx="829.65" cy="902.9" r="4.75"/>
<circle cx="829.65" cy="908.7" r="4.75"/>
<circle cx="829.65" cy="914.5" r="4.75"/>
</g>
<g fill="#ff2600" stroke="#3a0c04" stroke-width="0.9">
<rect x="848.45" y="738" width="9.6" height="9.6"/>
<rect x="848.45" y="743.2" width="9.6" height="9.6"/>
<rect x="848.45" y="784.5" width="9.6" height="9.6"/>
<rect x="848.45" y="806.2" width="9.6" height="9.6"/>
<rect x="848.45" y="812.7" width="9.6" height="9.6"/>
<rect x="848.45" y="837.2" width="9.6" height="9.6"/>
<rect x="848.45" y="852.8" width="9.6" height="9.6"/>
<rect x="848.45" y="861.9" width="9.6" height="9.6"/>
<rect x="848.45" y="874.2" width="9.6" height="9.6"/>
<rect x="848.45" y="884.2" width="9.6" height="9.6"/>
<rect x="848.45" y="900.6" width="9.6" height="9.6"/>
<rect x="848.45" y="905.2" width="9.6" height="9.6"/>
<rect x="848.45" y="909.7" width="9.6" height="9.6"/>
</g>
<line x1="820.15" y1="915.3" x2="839.15" y2="915.3" stroke="#000" stroke-width="4.6" stroke-linecap="butt"/>
<line x1="843.75" y1="915.3" x2="862.75" y2="915.3" stroke="#000" stroke-width="4.6" stroke-linecap="butt"/>
<g fill="#0028ff" stroke="#05050a" stroke-width="1">
<circle cx="890.7" cy="910.8" r="4.75"/>
<circle cx="890.7" cy="915.82" r="4.75"/>
<circle cx="890.7" cy="920.85" r="4.75"/>
<circle cx="890.7" cy="925.88" r="4.75"/>
<circle cx="890.7" cy="930.9" r="4.75"/>
<circle cx="890.7" cy="935.92" r="4.75"/>
<circle cx="890.7" cy="940.95" r="4.75"/>
<circle cx="890.7" cy="945.98" r="4.75"/>
<circle cx="890.7" cy="951" r="4.75"/>
</g>
<g fill="#ff2600" stroke="#3a0c04" stroke-width="0.9">
<rect x="909.5" y="890.8" width="9.6" height="9.6"/>
<rect x="909.5" y="895.75" width="9.6" height="9.6"/>
<rect x="909.5" y="900.69" width="9.6" height="9.6"/>
<rect x="909.5" y="905.64" width="9.6" height="9.6"/>
<rect x="909.5" y="910.58" width="9.6" height="9.6"/>
<rect x="909.5" y="915.53" width="9.6" height="9.6"/>
<rect x="909.5" y="920.47" width="9.6" height="9.6"/>
<rect x="909.5" y="925.42" width="9.6" height="9.6"/>
<rect x="909.5" y="930.36" width="9.6" height="9.6"/>
<rect x="909.5" y="935.31" width="9.6" height="9.6"/>
<rect x="909.5" y="940.25" width="9.6" height="9.6"/>
<rect x="909.5" y="945.2" width="9.6" height="9.6"/>
</g>
<line x1="881.2" y1="949.6" x2="900.2" y2="949.6" stroke="#000" stroke-width="4.6" stroke-linecap="butt"/>
<line x1="914.3" y1="913.6" x2="914.3" y2="949.6" stroke="#000" stroke-width="1.6" stroke-linecap="butt"/>
<line x1="909.3" y1="913.6" x2="919.3" y2="913.6" stroke="#000" stroke-width="1.6" stroke-linecap="butt"/>
<line x1="909.3" y1="949.6" x2="919.3" y2="949.6" stroke="#000" stroke-width="1.6" stroke-linecap="butt"/>
<line x1="904.8" y1="921.9" x2="923.8" y2="921.9" stroke="#000" stroke-width="4.6" stroke-linecap="butt"/>
<g fill="#0028ff" stroke="#05050a" stroke-width="1">
<circle cx="951.75" cy="716.8" r="4.75"/>
<circle cx="951.75" cy="748.7" r="4.75"/>
<circle cx="951.75" cy="811.9" r="4.75"/>
<circle cx="951.75" cy="834" r="4.75"/>
<circle cx="951.75" cy="841.5" r="4.75"/>
<circle cx="951.75" cy="861.8" r="4.75"/>
<circle cx="951.75" cy="868.4" r="4.75"/>
<circle cx="951.75" cy="875.6" r="4.75"/>
<circle cx="951.75" cy="884.5" r="4.75"/>
<circle cx="951.75" cy="890" r="4.75"/>
<circle cx="951.75" cy="898.4" r="4.75"/>
<circle cx="951.75" cy="903.9" r="4.75"/>
<circle cx="951.75" cy="915" r="4.75"/>
<circle cx="951.75" cy="923.3" r="4.75"/>
<circle cx="951.75" cy="930.2" r="4.75"/>
<circle cx="951.75" cy="934.4" r="4.75"/>
<circle cx="951.75" cy="938" r="4.75"/>
</g>
<g fill="#ff2600" stroke="#3a0c04" stroke-width="0.9">
<rect x="970.55" y="672.4" width="9.6" height="9.6"/>
<rect x="970.55" y="712" width="9.6" height="9.6"/>
<rect x="970.55" y="778.5" width="9.6" height="9.6"/>
<rect x="970.55" y="788.2" width="9.6" height="9.6"/>
<rect x="970.55" y="816.8" width="9.6" height="9.6"/>
<rect x="970.55" y="821.85" width="9.6" height="9.6"/>
<rect x="970.55" y="826.9" width="9.6" height="9.6"/>
<rect x="970.55" y="831.94" width="9.6" height="9.6"/>
<rect x="970.55" y="836.99" width="9.6" height="9.6"/>
<rect x="970.55" y="842.04" width="9.6" height="9.6"/>
<rect x="970.55" y="847.09" width="9.6" height="9.6"/>
<rect x="970.55" y="852.13" width="9.6" height="9.6"/>
<rect x="970.55" y="857.18" width="9.6" height="9.6"/>
<rect x="970.55" y="862.23" width="9.6" height="9.6"/>
<rect x="970.55" y="867.28" width="9.6" height="9.6"/>
<rect x="970.55" y="872.33" width="9.6" height="9.6"/>
<rect x="970.55" y="877.37" width="9.6" height="9.6"/>
<rect x="970.55" y="882.42" width="9.6" height="9.6"/>
<rect x="970.55" y="887.47" width="9.6" height="9.6"/>
<rect x="970.55" y="892.52" width="9.6" height="9.6"/>
<rect x="970.55" y="897.57" width="9.6" height="9.6"/>
<rect x="970.55" y="902.61" width="9.6" height="9.6"/>
<rect x="970.55" y="907.66" width="9.6" height="9.6"/>
<rect x="970.55" y="912.71" width="9.6" height="9.6"/>
<rect x="970.55" y="917.76" width="9.6" height="9.6"/>
<rect x="970.55" y="922.8" width="9.6" height="9.6"/>
<rect x="970.55" y="927.85" width="9.6" height="9.6"/>
<rect x="970.55" y="932.9" width="9.6" height="9.6"/>
</g>
<line x1="951.75" y1="906" x2="951.75" y2="937.2" stroke="#000" stroke-width="1.6" stroke-linecap="butt"/>
<line x1="946.75" y1="906" x2="956.75" y2="906" stroke="#000" stroke-width="1.6" stroke-linecap="butt"/>
<line x1="946.75" y1="937.2" x2="956.75" y2="937.2" stroke="#000" stroke-width="1.6" stroke-linecap="butt"/>
<line x1="942.25" y1="937.2" x2="961.25" y2="937.2" stroke="#000" stroke-width="4.6" stroke-linecap="butt"/>
<line x1="975.35" y1="900" x2="975.35" y2="937.2" stroke="#000" stroke-width="1.6" stroke-linecap="butt"/>
<line x1="970.35" y1="900" x2="980.35" y2="900" stroke="#000" stroke-width="1.6" stroke-linecap="butt"/>
<line x1="970.35" y1="937.2" x2="980.35" y2="937.2" stroke="#000" stroke-width="1.6" stroke-linecap="butt"/>
<line x1="965.85" y1="937.2" x2="984.85" y2="937.2" stroke="#000" stroke-width="4.6" stroke-linecap="butt"/>
<g fill="#0028ff" stroke="#05050a" stroke-width="1">
<circle cx="1012.8" cy="729.9" r="4.75"/>
<circle cx="1012.8" cy="747" r="4.75"/>
<circle cx="1012.8" cy="751.9" r="4.75"/>
<circle cx="1012.8" cy="756.8" r="4.75"/>
<circle cx="1012.8" cy="761.7" r="4.75"/>
<circle cx="1012.8" cy="766.6" r="4.75"/>
<circle cx="1012.8" cy="771.5" r="4.75"/>
<circle cx="1012.8" cy="776.4" r="4.75"/>
<circle cx="1012.8" cy="781.3" r="4.75"/>
<circle cx="1012.8" cy="786.2" r="4.75"/>
<circle cx="1012.8" cy="791.1" r="4.75"/>
<circle cx="1012.8" cy="796" r="4.75"/>
<circle cx="1012.8" cy="800.9" r="4.75"/>
<circle cx="1012.8" cy="805.8" r="4.75"/>
<circle cx="1012.8" cy="810.7" r="4.75"/>
<circle cx="1012.8" cy="815.6" r="4.75"/>
<circle cx="1012.8" cy="820.5" r="4.75"/>
<circle cx="1012.8" cy="825.4" r="4.75"/>
<circle cx="1012.8" cy="830.3" r="4.75"/>
<circle cx="1012.8" cy="835.2" r="4.75"/>
<circle cx="1012.8" cy="840.1" r="4.75"/>
<circle cx="1012.8" cy="845" r="4.75"/>
</g>
<g fill="#ff2600" stroke="#3a0c04" stroke-width="0.9">
<rect x="1031.6" y="709" width="9.6" height="9.6"/>
<rect x="1031.6" y="723.1" width="9.6" height="9.6"/>
<rect x="1031.6" y="728.21" width="9.6" height="9.6"/>
<rect x="1031.6" y="733.32" width="9.6" height="9.6"/>
<rect x="1031.6" y="738.43" width="9.6" height="9.6"/>
<rect x="1031.6" y="743.54" width="9.6" height="9.6"/>
<rect x="1031.6" y="748.65" width="9.6" height="9.6"/>
<rect x="1031.6" y="753.76" width="9.6" height="9.6"/>
<rect x="1031.6" y="758.87" width="9.6" height="9.6"/>
<rect x="1031.6" y="763.98" width="9.6" height="9.6"/>
<rect x="1031.6" y="769.09" width="9.6" height="9.6"/>
<rect x="1031.6" y="774.21" width="9.6" height="9.6"/>
<rect x="1031.6" y="779.32" width="9.6" height="9.6"/>
<rect x="1031.6" y="784.43" width="9.6" height="9.6"/>
<rect x="1031.6" y="789.54" width="9.6" height="9.6"/>
<rect x="1031.6" y="794.65" width="9.6" height="9.6"/>
<rect x="1031.6" y="799.76" width="9.6" height="9.6"/>
<rect x="1031.6" y="804.87" width="9.6" height="9.6"/>
<rect x="1031.6" y="809.98" width="9.6" height="9.6"/>
<rect x="1031.6" y="815.09" width="9.6" height="9.6"/>
<rect x="1031.6" y="820.2" width="9.6" height="9.6"/>
<rect x="1031.6" y="834.7" width="9.6" height="9.6"/>
<rect x="1031.6" y="839.2" width="9.6" height="9.6"/>
</g>
<line x1="1012.8" y1="763" x2="1012.8" y2="803.5" stroke="#000" stroke-width="1.6" stroke-linecap="butt"/>
<line x1="1007.8" y1="763" x2="1017.8" y2="763" stroke="#000" stroke-width="1.6" stroke-linecap="butt"/>
<line x1="1007.8" y1="803.5" x2="1017.8" y2="803.5" stroke="#000" stroke-width="1.6" stroke-linecap="butt"/>
<line x1="1003.3" y1="782.1" x2="1022.3" y2="782.1" stroke="#000" stroke-width="4.6" stroke-linecap="butt"/>
<line x1="1036.4" y1="748" x2="1036.4" y2="780" stroke="#000" stroke-width="1.6" stroke-linecap="butt"/>
<line x1="1031.4" y1="748" x2="1041.4" y2="748" stroke="#000" stroke-width="1.6" stroke-linecap="butt"/>
<line x1="1031.4" y1="780" x2="1041.4" y2="780" stroke="#000" stroke-width="1.6" stroke-linecap="butt"/>
<line x1="1026.9" y1="763.9" x2="1045.9" y2="763.9" stroke="#000" stroke-width="4.6" stroke-linecap="butt"/>
<g fill="#0028ff" stroke="#05050a" stroke-width="1">
<circle cx="1073.85" cy="803.4" r="4.75"/>
<circle cx="1073.85" cy="813.8" r="4.75"/>
<circle cx="1073.85" cy="826.8" r="4.75"/>
<circle cx="1073.85" cy="830" r="4.75"/>
<circle cx="1073.85" cy="833.2" r="4.75"/>
<circle cx="1073.85" cy="845.7" r="4.75"/>
<circle cx="1073.85" cy="855" r="4.75"/>
<circle cx="1073.85" cy="859.2" r="4.75"/>
<circle cx="1073.85" cy="863" r="4.75"/>
<circle cx="1073.85" cy="870" r="4.75"/>
<circle cx="1073.85" cy="874.6" r="4.75"/>
<circle cx="1073.85" cy="879.2" r="4.75"/>
<circle cx="1073.85" cy="883.8" r="4.75"/>
<circle cx="1073.85" cy="888.4" r="4.75"/>
<circle cx="1073.85" cy="893" r="4.75"/>
<circle cx="1073.85" cy="897.6" r="4.75"/>
<circle cx="1073.85" cy="902.2" r="4.75"/>
<circle cx="1073.85" cy="906.8" r="4.75"/>
<circle cx="1073.85" cy="911.4" r="4.75"/>
<circle cx="1073.85" cy="916" r="4.75"/>
<circle cx="1073.85" cy="920.6" r="4.75"/>
<circle cx="1073.85" cy="925.2" r="4.75"/>
<circle cx="1073.85" cy="929.8" r="4.75"/>
<circle cx="1073.85" cy="934.4" r="4.75"/>
<circle cx="1073.85" cy="939" r="4.75"/>
<circle cx="1073.85" cy="943.6" r="4.75"/>
<circle cx="1073.85" cy="948.2" r="4.75"/>
<circle cx="1073.85" cy="952.8" r="4.75"/>
<circle cx="1073.85" cy="957.4" r="4.75"/>
<circle cx="1073.85" cy="962" r="4.75"/>
</g>
<g fill="#ff2600" stroke="#3a0c04" stroke-width="0.9">
<rect x="1092.65" y="792.1" width="9.6" height="9.6"/>
<rect x="1092.65" y="807.7" width="9.6" height="9.6"/>
<rect x="1092.65" y="819.2" width="9.6" height="9.6"/>
<rect x="1092.65" y="824.13" width="9.6" height="9.6"/>
<rect x="1092.65" y="829.06" width="9.6" height="9.6"/>
<rect x="1092.65" y="833.99" width="9.6" height="9.6"/>
<rect x="1092.65" y="838.92" width="9.6" height="9.6"/>
<rect x="1092.65" y="843.86" width="9.6" height="9.6"/>
<rect x="1092.65" y="848.79" width="9.6" height="9.6"/>
<rect x="1092.65" y="853.72" width="9.6" height="9.6"/>
<rect x="1092.65" y="858.65" width="9.6" height="9.6"/>
<rect x="1092.65" y="863.58" width="9.6" height="9.6"/>
<rect x="1092.65" y="868.51" width="9.6" height="9.6"/>
<rect x="1092.65" y="873.44" width="9.6" height="9.6"/>
<rect x="1092.65" y="878.37" width="9.6" height="9.6"/>
<rect x="1092.65" y="883.3" width="9.6" height="9.6"/>
<rect x="1092.65" y="888.23" width="9.6" height="9.6"/>
<rect x="1092.65" y="893.17" width="9.6" height="9.6"/>
<rect x="1092.65" y="898.1" width="9.6" height="9.6"/>
<rect x="1092.65" y="903.03" width="9.6" height="9.6"/>
<rect x="1092.65" y="907.96" width="9.6" height="9.6"/>
<rect x="1092.65" y="912.89" width="9.6" height="9.6"/>
<rect x="1092.65" y="917.82" width="9.6" height="9.6"/>
<rect x="1092.65" y="922.75" width="9.6" height="9.6"/>
<rect x="1092.65" y="927.68" width="9.6" height="9.6"/>
<rect x="1092.65" y="932.61" width="9.6" height="9.6"/>
<rect x="1092.65" y="937.54" width="9.6" height="9.6"/>
<rect x="1092.65" y="942.48" width="9.6" height="9.6"/>
<rect x="1092.65" y="947.41" width="9.6" height="9.6"/>
<rect x="1092.65" y="952.34" width="9.6" height="9.6"/>
<rect x="1092.65" y="957.27" width="9.6" height="9.6"/>
<rect x="1092.65" y="962.2" width="9.6" height="9.6"/>
</g>
<line x1="1073.85" y1="899" x2="1073.85" y2="933" stroke="#000" stroke-width="1.6" stroke-linecap="butt"/>
<line x1="1068.85" y1="899" x2="1078.85" y2="899" stroke="#000" stroke-width="1.6" stroke-linecap="butt"/>
<line x1="1068.85" y1="933" x2="1078.85" y2="933" stroke="#000" stroke-width="1.6" stroke-linecap="butt"/>
<line x1="1064.35" y1="918.4" x2="1083.35" y2="918.4" stroke="#000" stroke-width="4.6" stroke-linecap="butt"/>
<line x1="1097.45" y1="872.2" x2="1097.45" y2="921.6" stroke="#000" stroke-width="1.6" stroke-linecap="butt"/>
<line x1="1092.45" y1="872.2" x2="1102.45" y2="872.2" stroke="#000" stroke-width="1.6" stroke-linecap="butt"/>
<line x1="1092.45" y1="921.6" x2="1102.45" y2="921.6" stroke="#000" stroke-width="1.6" stroke-linecap="butt"/>
<line x1="1087.95" y1="896.4" x2="1106.95" y2="896.4" stroke="#000" stroke-width="4.6" stroke-linecap="butt"/>
<g fill="#0028ff" stroke="#05050a" stroke-width="1">
<circle cx="1134.9" cy="831" r="4.75"/>
<circle cx="1134.9" cy="855.6" r="4.75"/>
<circle cx="1134.9" cy="870.1" r="4.75"/>
<circle cx="1134.9" cy="874.8" r="4.75"/>
<circle cx="1134.9" cy="879" r="4.75"/>
</g>
<g fill="#ff2600" stroke="#3a0c04" stroke-width="0.9">
<rect x="1153.7" y="782.7" width="9.6" height="9.6"/>
<rect x="1153.7" y="833.7" width="9.6" height="9.6"/>
<rect x="1153.7" y="865.7" width="9.6" height="9.6"/>
<rect x="1153.7" y="870.05" width="9.6" height="9.6"/>
<rect x="1153.7" y="874.4" width="9.6" height="9.6"/>
</g>
<line x1="1125.4" y1="879" x2="1144.4" y2="879" stroke="#000" stroke-width="4.6" stroke-linecap="butt"/>
<line x1="1149" y1="879" x2="1168" y2="879" stroke="#000" stroke-width="4.6" stroke-linecap="butt"/>
<g fill="#0028ff" stroke="#05050a" stroke-width="1">
<circle cx="1195.95" cy="711.7" r="4.75"/>
<circle cx="1195.95" cy="718" r="4.75"/>
<circle cx="1195.95" cy="721.5" r="4.75"/>
<circle cx="1195.95" cy="726.2" r="4.75"/>
<circle cx="1195.95" cy="755.4" r="4.75"/>
<circle cx="1195.95" cy="766" r="4.75"/>
<circle cx="1195.95" cy="770.18" r="4.75"/>
<circle cx="1195.95" cy="774.37" r="4.75"/>
<circle cx="1195.95" cy="778.55" r="4.75"/>
<circle cx="1195.95" cy="782.74" r="4.75"/>
<circle cx="1195.95" cy="786.92" r="4.75"/>
<circle cx="1195.95" cy="791.11" r="4.75"/>
<circle cx="1195.95" cy="795.29" r="4.75"/>
<circle cx="1195.95" cy="799.47" r="4.75"/>
<circle cx="1195.95" cy="803.66" r="4.75"/>
<circle cx="1195.95" cy="807.84" r="4.75"/>
<circle cx="1195.95" cy="812.03" r="4.75"/>
<circle cx="1195.95" cy="816.21" r="4.75"/>
<circle cx="1195.95" cy="820.39" r="4.75"/>
<circle cx="1195.95" cy="824.58" r="4.75"/>
<circle cx="1195.95" cy="828.76" r="4.75"/>
<circle cx="1195.95" cy="832.95" r="4.75"/>
<circle cx="1195.95" cy="837.13" r="4.75"/>
<circle cx="1195.95" cy="841.32" r="4.75"/>
<circle cx="1195.95" cy="845.5" r="4.75"/>
<circle cx="1195.95" cy="849.68" r="4.75"/>
<circle cx="1195.95" cy="853.87" r="4.75"/>
<circle cx="1195.95" cy="858.05" r="4.75"/>
<circle cx="1195.95" cy="862.24" r="4.75"/>
<circle cx="1195.95" cy="866.42" r="4.75"/>
<circle cx="1195.95" cy="870.61" r="4.75"/>
<circle cx="1195.95" cy="874.79" r="4.75"/>
<circle cx="1195.95" cy="878.97" r="4.75"/>
<circle cx="1195.95" cy="883.16" r="4.75"/>
<circle cx="1195.95" cy="887.34" r="4.75"/>
<circle cx="1195.95" cy="891.53" r="4.75"/>
<circle cx="1195.95" cy="895.71" r="4.75"/>
<circle cx="1195.95" cy="899.89" r="4.75"/>
<circle cx="1195.95" cy="904.08" r="4.75"/>
<circle cx="1195.95" cy="908.26" r="4.75"/>
<circle cx="1195.95" cy="912.45" r="4.75"/>
<circle cx="1195.95" cy="916.63" r="4.75"/>
<circle cx="1195.95" cy="920.82" r="4.75"/>
<circle cx="1195.95" cy="925" r="4.75"/>
</g>
<g fill="#ff2600" stroke="#3a0c04" stroke-width="0.9">
<rect x="1214.75" y="696.2" width="9.6" height="9.6"/>
<rect x="1214.75" y="700.83" width="9.6" height="9.6"/>
<rect x="1214.75" y="705.47" width="9.6" height="9.6"/>
<rect x="1214.75" y="710.1" width="9.6" height="9.6"/>
<rect x="1214.75" y="714.73" width="9.6" height="9.6"/>
<rect x="1214.75" y="719.36" width="9.6" height="9.6"/>
<rect x="1214.75" y="724" width="9.6" height="9.6"/>
<rect x="1214.75" y="728.63" width="9.6" height="9.6"/>
<rect x="1214.75" y="733.26" width="9.6" height="9.6"/>
<rect x="1214.75" y="737.89" width="9.6" height="9.6"/>
<rect x="1214.75" y="742.53" width="9.6" height="9.6"/>
<rect x="1214.75" y="747.16" width="9.6" height="9.6"/>
<rect x="1214.75" y="751.79" width="9.6" height="9.6"/>
<rect x="1214.75" y="756.42" width="9.6" height="9.6"/>
<rect x="1214.75" y="761.06" width="9.6" height="9.6"/>
<rect x="1214.75" y="765.69" width="9.6" height="9.6"/>
<rect x="1214.75" y="770.32" width="9.6" height="9.6"/>
<rect x="1214.75" y="774.96" width="9.6" height="9.6"/>
<rect x="1214.75" y="779.59" width="9.6" height="9.6"/>
<rect x="1214.75" y="784.22" width="9.6" height="9.6"/>
<rect x="1214.75" y="788.85" width="9.6" height="9.6"/>
<rect x="1214.75" y="793.49" width="9.6" height="9.6"/>
<rect x="1214.75" y="798.12" width="9.6" height="9.6"/>
<rect x="1214.75" y="802.75" width="9.6" height="9.6"/>
<rect x="1214.75" y="807.38" width="9.6" height="9.6"/>
<rect x="1214.75" y="812.02" width="9.6" height="9.6"/>
<rect x="1214.75" y="816.65" width="9.6" height="9.6"/>
<rect x="1214.75" y="821.28" width="9.6" height="9.6"/>
<rect x="1214.75" y="825.91" width="9.6" height="9.6"/>
<rect x="1214.75" y="830.55" width="9.6" height="9.6"/>
<rect x="1214.75" y="835.18" width="9.6" height="9.6"/>
<rect x="1214.75" y="839.81" width="9.6" height="9.6"/>
<rect x="1214.75" y="844.44" width="9.6" height="9.6"/>
<rect x="1214.75" y="849.08" width="9.6" height="9.6"/>
<rect x="1214.75" y="853.71" width="9.6" height="9.6"/>
<rect x="1214.75" y="858.34" width="9.6" height="9.6"/>
<rect x="1214.75" y="862.98" width="9.6" height="9.6"/>
<rect x="1214.75" y="867.61" width="9.6" height="9.6"/>
<rect x="1214.75" y="872.24" width="9.6" height="9.6"/>
<rect x="1214.75" y="876.87" width="9.6" height="9.6"/>
<rect x="1214.75" y="881.51" width="9.6" height="9.6"/>
<rect x="1214.75" y="886.14" width="9.6" height="9.6"/>
<rect x="1214.75" y="890.77" width="9.6" height="9.6"/>
<rect x="1214.75" y="895.4" width="9.6" height="9.6"/>
<rect x="1214.75" y="900.04" width="9.6" height="9.6"/>
<rect x="1214.75" y="904.67" width="9.6" height="9.6"/>
<rect x="1214.75" y="909.3" width="9.6" height="9.6"/>
<rect x="1214.75" y="913.93" width="9.6" height="9.6"/>
<rect x="1214.75" y="918.57" width="9.6" height="9.6"/>
<rect x="1214.75" y="923.2" width="9.6" height="9.6"/>
</g>
<line x1="1195.95" y1="805" x2="1195.95" y2="890" stroke="#000" stroke-width="1.6" stroke-linecap="butt"/>
<line x1="1190.95" y1="805" x2="1200.95" y2="805" stroke="#000" stroke-width="1.6" stroke-linecap="butt"/>
<line x1="1190.95" y1="890" x2="1200.95" y2="890" stroke="#000" stroke-width="1.6" stroke-linecap="butt"/>
<line x1="1186.45" y1="853.3" x2="1205.45" y2="853.3" stroke="#000" stroke-width="4.6" stroke-linecap="butt"/>
<line x1="1219.55" y1="785.9" x2="1219.55" y2="881.8" stroke="#000" stroke-width="1.6" stroke-linecap="butt"/>
<line x1="1214.55" y1="785.9" x2="1224.55" y2="785.9" stroke="#000" stroke-width="1.6" stroke-linecap="butt"/>
<line x1="1214.55" y1="881.8" x2="1224.55" y2="881.8" stroke="#000" stroke-width="1.6" stroke-linecap="butt"/>
<line x1="1210.05" y1="842.5" x2="1229.05" y2="842.5" stroke="#000" stroke-width="4.6" stroke-linecap="butt"/>
<g fill="#0028ff" stroke="#05050a" stroke-width="1">
<circle cx="1257" cy="683.3" r="4.75"/>
<circle cx="1257" cy="722" r="4.75"/>
<circle cx="1257" cy="723.8" r="4.75"/>
<circle cx="1257" cy="741.4" r="4.75"/>
<circle cx="1257" cy="763.6" r="4.75"/>
<circle cx="1257" cy="789.4" r="4.75"/>
<circle cx="1257" cy="818.6" r="4.75"/>
<circle cx="1257" cy="824.5" r="4.75"/>
<circle cx="1257" cy="833.9" r="4.75"/>
<circle cx="1257" cy="840.9" r="4.75"/>
<circle cx="1257" cy="847.9" r="4.75"/>
<circle cx="1257" cy="852.6" r="4.75"/>
</g>
<g fill="#ff2600" stroke="#3a0c04" stroke-width="0.9">
<rect x="1275.8" y="682.1" width="9.6" height="9.6"/>
<rect x="1275.8" y="696.8" width="9.6" height="9.6"/>
<rect x="1275.8" y="710.8" width="9.6" height="9.6"/>
<rect x="1275.8" y="721.4" width="9.6" height="9.6"/>
<rect x="1275.8" y="737.8" width="9.6" height="9.6"/>
<rect x="1275.8" y="758.8" width="9.6" height="9.6"/>
<rect x="1275.8" y="764.7" width="9.6" height="9.6"/>
<rect x="1275.8" y="781.1" width="9.6" height="9.6"/>
<rect x="1275.8" y="798.9" width="9.6" height="9.6"/>
<rect x="1275.8" y="803.76" width="9.6" height="9.6"/>
<rect x="1275.8" y="808.62" width="9.6" height="9.6"/>
<rect x="1275.8" y="813.48" width="9.6" height="9.6"/>
<rect x="1275.8" y="818.34" width="9.6" height="9.6"/>
<rect x="1275.8" y="823.2" width="9.6" height="9.6"/>
<rect x="1275.8" y="828.06" width="9.6" height="9.6"/>
<rect x="1275.8" y="832.92" width="9.6" height="9.6"/>
<rect x="1275.8" y="837.78" width="9.6" height="9.6"/>
<rect x="1275.8" y="842.64" width="9.6" height="9.6"/>
<rect x="1275.8" y="847.5" width="9.6" height="9.6"/>
</g>
<line x1="1247.5" y1="852.1" x2="1266.5" y2="852.1" stroke="#000" stroke-width="4.6" stroke-linecap="butt"/>
<line x1="1280.6" y1="825.7" x2="1280.6" y2="852.6" stroke="#000" stroke-width="1.6" stroke-linecap="butt"/>
<line x1="1275.6" y1="825.7" x2="1285.6" y2="825.7" stroke="#000" stroke-width="1.6" stroke-linecap="butt"/>
<line x1="1275.6" y1="852.6" x2="1285.6" y2="852.6" stroke="#000" stroke-width="1.6" stroke-linecap="butt"/>
<line x1="1271.1" y1="852.1" x2="1290.1" y2="852.1" stroke="#000" stroke-width="4.6" stroke-linecap="butt"/>
<circle cx="11.3" cy="974.3" r="10.3" fill="#0028ff" stroke="#000" stroke-width="1.3"/>
<rect x="1.9" y="1004.3" width="21.2" height="21" fill="#ff2600" stroke="#1a0500" stroke-width="1.2"/>
<text transform="translate(54.2 984) scale(1 1.02)" font-size="27.26" text-anchor="start" font-weight="normal">Bendiocarb unexposed</text>
<text transform="translate(52.2 1023.9) scale(1 1.02)" font-size="27.26" text-anchor="start" font-weight="normal">Bendiocarb exposed</text>
</svg>
</body></html>
